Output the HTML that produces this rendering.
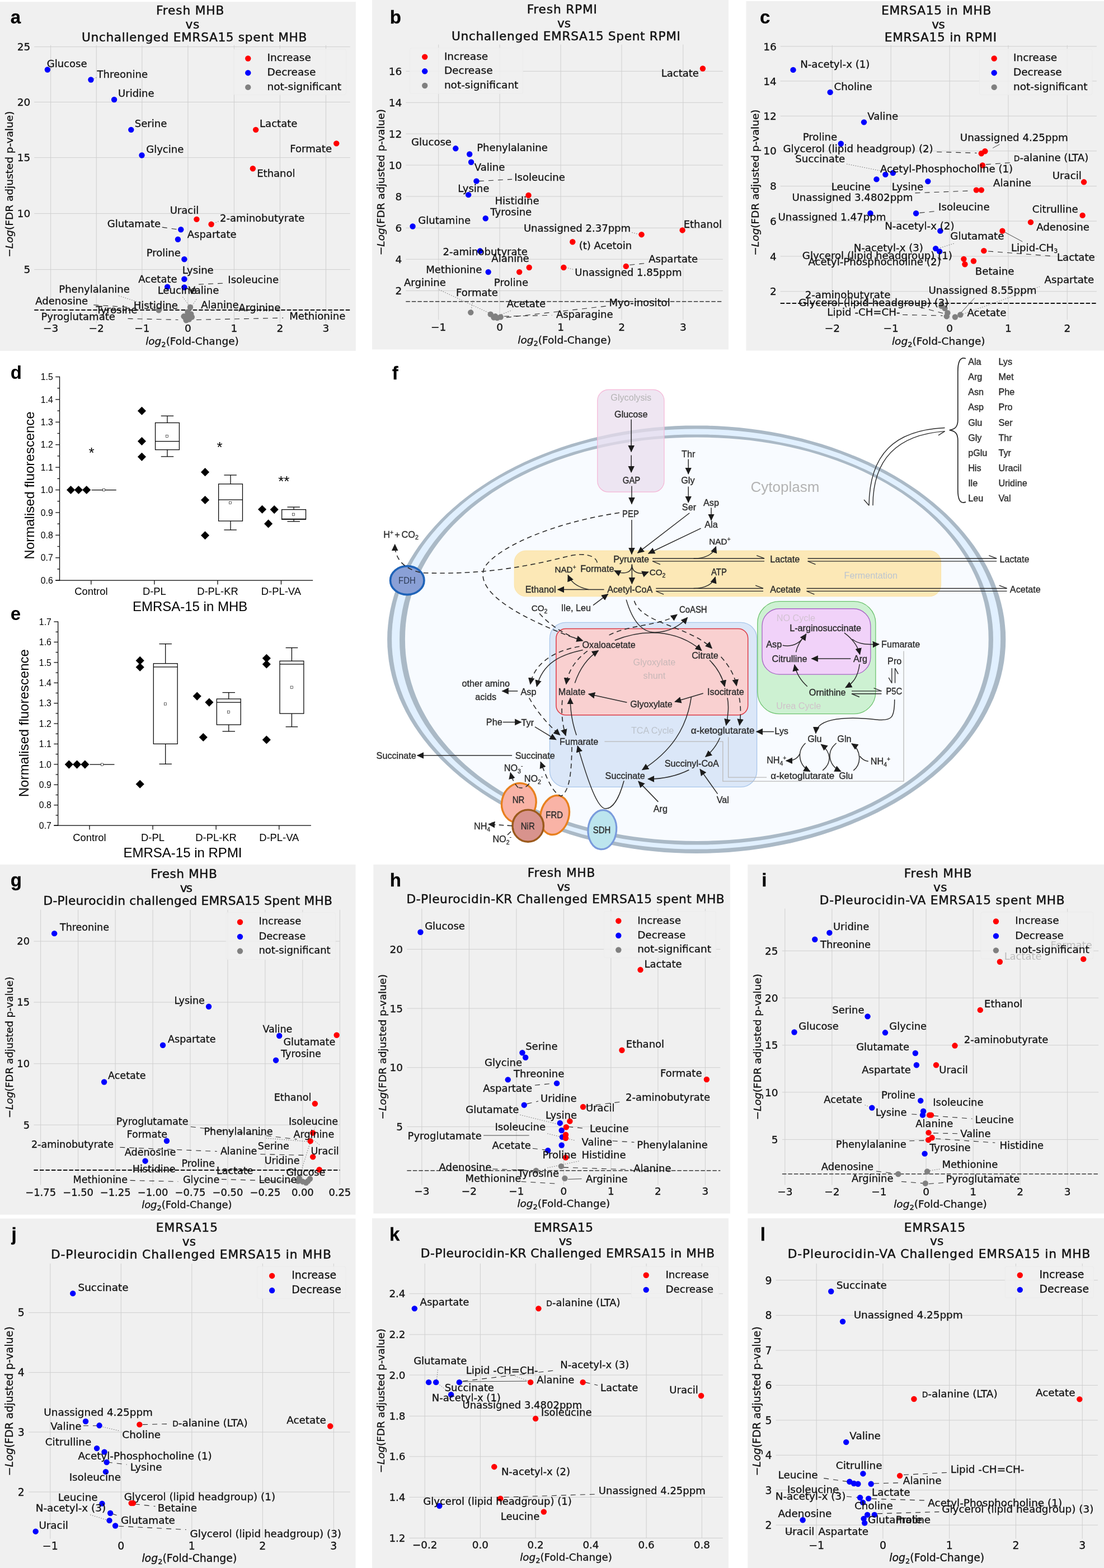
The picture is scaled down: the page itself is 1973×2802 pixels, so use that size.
<!DOCTYPE html>
<html lang="en"><head><meta charset="utf-8"><title>Figure</title>
<style>
html,body{margin:0;padding:0;background:#fff;}
body{width:1973px;height:2802px;}
svg{display:block;}
.v{font-family:"DejaVu Sans","Liberation Sans",sans-serif;fill:#111;}
.v text{stroke:#111;stroke-width:0.3px;}
.v text.tt{stroke-width:0.45px;}
.b{font-family:"Liberation Sans",sans-serif;fill:#000;}
.d{font-family:"Liberation Sans","DejaVu Sans",sans-serif;fill:#2b2b2b;}
.d text{stroke:#2b2b2b;stroke-width:0.35px;}
.d text.g{stroke:none;}
text.pl{font-family:"Liberation Sans",sans-serif;font-weight:bold;fill:#000;}
</style></head><body>
<svg width="1973" height="2802" viewBox="0 0 1973 2802">
<rect x="0" y="0" width="1973" height="2802" fill="#ffffff"/>
<!-- panel_a -->
<g class="v">
<rect x="0" y="3.27" width="635.92" height="623.67" fill="#f0f0f0"/>
<line x1="90.61" y1="80.82" x2="90.61" y2="577.55" stroke="#cfcfcf" stroke-width="1"/>
<line x1="172.24" y1="80.82" x2="172.24" y2="577.55" stroke="#cfcfcf" stroke-width="1"/>
<line x1="253.88" y1="80.82" x2="253.88" y2="577.55" stroke="#cfcfcf" stroke-width="1"/>
<line x1="335.92" y1="80.82" x2="335.92" y2="577.55" stroke="#cfcfcf" stroke-width="1"/>
<line x1="418.37" y1="80.82" x2="418.37" y2="577.55" stroke="#cfcfcf" stroke-width="1"/>
<line x1="500.41" y1="80.82" x2="500.41" y2="577.55" stroke="#cfcfcf" stroke-width="1"/>
<line x1="582.45" y1="80.82" x2="582.45" y2="577.55" stroke="#cfcfcf" stroke-width="1"/>
<line x1="61.22" y1="83.67" x2="625.71" y2="83.67" stroke="#cfcfcf" stroke-width="1"/>
<line x1="61.22" y1="182.45" x2="625.71" y2="182.45" stroke="#cfcfcf" stroke-width="1"/>
<line x1="61.22" y1="281.63" x2="625.71" y2="281.63" stroke="#cfcfcf" stroke-width="1"/>
<line x1="61.22" y1="381.63" x2="625.71" y2="381.63" stroke="#cfcfcf" stroke-width="1"/>
<line x1="61.22" y1="481.63" x2="625.71" y2="481.63" stroke="#cfcfcf" stroke-width="1"/>
<rect x="417.14" y="87.76" width="201.22" height="81.63" fill="#f0f0f0" rx="3" stroke="#ececec" stroke-width="1" fill-opacity="0.85"/>
<line x1="61.22" y1="553.88" x2="625.71" y2="553.88" stroke="#111" stroke-width="2" stroke-dasharray="7.5 3"/>
<line x1="289.8" y1="406.12" x2="318.37" y2="410.2" stroke="#2a2a2a" stroke-width="1.1" stroke-dasharray="9 8"/>
<line x1="355.1" y1="508.16" x2="400" y2="506.12" stroke="#2a2a2a" stroke-width="1.1" stroke-dasharray="9 8"/>
<line x1="212.24" y1="528.57" x2="281.63" y2="551.02" stroke="#444" stroke-width="0.8" stroke-dasharray="1.5 2.5"/>
<line x1="167.35" y1="544.9" x2="228.57" y2="548.98" stroke="#2a2a2a" stroke-width="1.1" stroke-dasharray="9 8"/>
<line x1="351.02" y1="571.43" x2="506.12" y2="568.16" stroke="#2a2a2a" stroke-width="1.1" stroke-dasharray="9 8"/>
<line x1="228.57" y1="569.39" x2="318.37" y2="571.43" stroke="#2a2a2a" stroke-width="1.1" stroke-dasharray="9 8"/>
<line x1="90.61" y1="121.63" x2="97.96" y2="118.37" stroke="#444" stroke-width="0.8" stroke-dasharray="1.5 2.5"/>
<line x1="167.35" y1="140.82" x2="173.47" y2="137.96" stroke="#444" stroke-width="0.8" stroke-dasharray="1.5 2.5"/>
<line x1="381.63" y1="399.18" x2="391.84" y2="395.1" stroke="#444" stroke-width="0.8" stroke-dasharray="1.5 2.5"/>
<line x1="326.53" y1="530.61" x2="338.78" y2="546.94" stroke="#444" stroke-width="0.8" stroke-dasharray="1.5 2.5"/>
<line x1="351.02" y1="534.69" x2="342.86" y2="546.94" stroke="#444" stroke-width="0.8" stroke-dasharray="1.5 2.5"/>
<circle cx="340" cy="548.98" r="5.2" fill="#808080" />
<circle cx="283.67" cy="554.29" r="5.2" fill="#808080" />
<circle cx="334.69" cy="563.27" r="5.2" fill="#808080" />
<circle cx="331.43" cy="568.16" r="5.2" fill="#808080" />
<circle cx="337.96" cy="570.61" r="5.2" fill="#808080" />
<circle cx="341.22" cy="561.22" r="5.2" fill="#808080" />
<circle cx="328.57" cy="565.31" r="5.2" fill="#808080" />
<circle cx="335.51" cy="557.55" r="5.2" fill="#808080" />
<circle cx="332.65" cy="572.24" r="5.2" fill="#808080" />
<circle cx="342.86" cy="566.53" r="5.2" fill="#808080" />
<circle cx="84.9" cy="124.49" r="5.2" fill="#0000ff" />
<circle cx="162.45" cy="142.45" r="5.2" fill="#0000ff" />
<circle cx="204.08" cy="177.96" r="5.2" fill="#0000ff" />
<circle cx="234.29" cy="231.84" r="5.2" fill="#0000ff" />
<circle cx="253.47" cy="277.55" r="5.2" fill="#0000ff" />
<circle cx="323.27" cy="410.2" r="5.2" fill="#0000ff" />
<circle cx="317.96" cy="427.76" r="5.2" fill="#0000ff" />
<circle cx="329.39" cy="463.27" r="5.2" fill="#0000ff" />
<circle cx="329.39" cy="498.78" r="5.2" fill="#0000ff" />
<circle cx="299.18" cy="512.65" r="5.2" fill="#0000ff" />
<circle cx="329.39" cy="513.47" r="5.2" fill="#0000ff" />
<circle cx="457.14" cy="231.84" r="5.2" fill="#ff0000" />
<circle cx="601.22" cy="256.33" r="5.2" fill="#ff0000" />
<circle cx="451.84" cy="301.22" r="5.2" fill="#ff0000" />
<circle cx="351.43" cy="391.84" r="5.2" fill="#ff0000" />
<circle cx="377.55" cy="400.82" r="5.2" fill="#ff0000" />
<text x="83.67" y="120.09" font-size="18.05">Glucose</text>
<text x="173.47" y="139.27" font-size="18.05">Threonine</text>
<text x="211.02" y="172.74" font-size="18.05">Uridine</text>
<text x="240.82" y="227.02" font-size="18.05">Serine</text>
<text x="261.22" y="272.74" font-size="18.05">Glycine</text>
<text x="464.08" y="227.02" font-size="18.05">Lactate</text>
<text x="518.37" y="271.51" font-size="18.05">Formate</text>
<text x="459.18" y="315.6" font-size="18.05">Ethanol</text>
<text x="303.67" y="382.13" font-size="18.05">Uracil</text>
<text x="393.06" y="396" font-size="18.05">2-aminobutyrate</text>
<text x="191.84" y="406.21" font-size="18.05">Glutamate</text>
<text x="334.69" y="424.98" font-size="18.05">Aspartate</text>
<text x="261.63" y="458.45" font-size="18.05">Proline</text>
<text x="325.71" y="489.07" font-size="18.05">Lysine</text>
<text x="247.35" y="505.39" font-size="18.05">Acetate</text>
<text x="407.35" y="506.21" font-size="18.05">Isoleucine</text>
<text x="105.31" y="522.53" font-size="18.05">Phenylalanine</text>
<text x="281.63" y="525.39" font-size="18.05">Leucine</text>
<text x="336.73" y="525.39" font-size="18.05">Valine</text>
<text x="63.27" y="543.76" font-size="18.05">Adenosine</text>
<text x="238.78" y="551.51" font-size="18.05">Histidine</text>
<text x="359.18" y="550.7" font-size="18.05">Alanine</text>
<text x="426.53" y="556" font-size="18.05">Arginine</text>
<text x="171.43" y="560.09" font-size="18.05">Tyrosine</text>
<text x="73.47" y="571.92" font-size="18.05">Pyroglutamate</text>
<text x="517.14" y="570.7" font-size="18.05">Methionine</text>
<circle cx="443.27" cy="104.47" r="5.2" fill="#ff0000" />
<text x="477.55" y="109.43" font-size="18.5">Increase</text>
<circle cx="443.27" cy="130.18" r="5.2" fill="#0000ff" />
<text x="477.55" y="135.14" font-size="18.5">Decrease</text>
<circle cx="443.27" cy="155.89" r="5.2" fill="#808080" />
<text x="477.55" y="160.85" font-size="18.5">not-significant</text>
<text x="90.61" y="593.19" font-size="18.5" text-anchor="middle">−3</text>
<text x="172.24" y="593.19" font-size="18.5" text-anchor="middle">−2</text>
<text x="253.88" y="593.19" font-size="18.5" text-anchor="middle">−1</text>
<text x="335.92" y="593.19" font-size="18.5" text-anchor="middle">0</text>
<text x="418.37" y="593.19" font-size="18.5" text-anchor="middle">1</text>
<text x="500.41" y="593.19" font-size="18.5" text-anchor="middle">2</text>
<text x="582.45" y="593.19" font-size="18.5" text-anchor="middle">3</text>
<text x="54.29" y="90.33" font-size="18.5" text-anchor="end">25</text>
<text x="54.29" y="189.11" font-size="18.5" text-anchor="end">20</text>
<text x="54.29" y="288.29" font-size="18.5" text-anchor="end">15</text>
<text x="54.29" y="388.29" font-size="18.5" text-anchor="end">10</text>
<text x="54.29" y="488.29" font-size="18.5" text-anchor="end">5</text>
<text x="343.47" y="615.64" font-size="18.5" text-anchor="middle"><tspan font-style="italic">log</tspan><tspan font-size="13" dy="4">2</tspan><tspan dy="-4">(Fold-Change)</tspan></text>
<text x="22.99" y="329.18" font-size="18.5" text-anchor="middle" transform="rotate(-90 22.99 329.18)">−<tspan font-style="italic">Log</tspan>(FDR adjusted p-value)</text>
<text x="278.98" y="26.28" font-size="21.7" class="tt" textLength="121.44" lengthAdjust="spacing">Fresh MHB</text>
<text x="331.43" y="50.77" font-size="21.7" class="tt" textLength="24.85" lengthAdjust="spacing">vs</text>
<text x="145.96" y="74.03" font-size="21.7" class="tt" textLength="402.48" lengthAdjust="spacing">Unchallenged EMRSA15 spent MHB</text>
<text x="18.78" y="41.5" font-size="33" class="pl">a</text>
</g>
<!-- panel_b -->
<g class="v">
<rect x="664.9" y="0" width="637.14" height="624.49" fill="#f0f0f0"/>
<line x1="783.67" y1="79.59" x2="783.67" y2="571.43" stroke="#cfcfcf" stroke-width="1"/>
<line x1="893.06" y1="79.59" x2="893.06" y2="571.43" stroke="#cfcfcf" stroke-width="1"/>
<line x1="1002.04" y1="79.59" x2="1002.04" y2="571.43" stroke="#cfcfcf" stroke-width="1"/>
<line x1="1111.02" y1="79.59" x2="1111.02" y2="571.43" stroke="#cfcfcf" stroke-width="1"/>
<line x1="1220.82" y1="79.59" x2="1220.82" y2="571.43" stroke="#cfcfcf" stroke-width="1"/>
<line x1="725.31" y1="127.35" x2="1291.84" y2="127.35" stroke="#cfcfcf" stroke-width="1"/>
<line x1="725.31" y1="183.27" x2="1291.84" y2="183.27" stroke="#cfcfcf" stroke-width="1"/>
<line x1="725.31" y1="239.18" x2="1291.84" y2="239.18" stroke="#cfcfcf" stroke-width="1"/>
<line x1="725.31" y1="295.1" x2="1291.84" y2="295.1" stroke="#cfcfcf" stroke-width="1"/>
<line x1="725.31" y1="351.02" x2="1291.84" y2="351.02" stroke="#cfcfcf" stroke-width="1"/>
<line x1="725.31" y1="407.35" x2="1291.84" y2="407.35" stroke="#cfcfcf" stroke-width="1"/>
<line x1="725.31" y1="463.27" x2="1291.84" y2="463.27" stroke="#cfcfcf" stroke-width="1"/>
<line x1="725.31" y1="519.59" x2="1291.84" y2="519.59" stroke="#cfcfcf" stroke-width="1"/>
<rect x="732.65" y="85.71" width="201.63" height="81.63" fill="#f0f0f0" rx="3" stroke="#ececec" stroke-width="1" fill-opacity="0.85"/>
<line x1="725.31" y1="538.78" x2="1291.84" y2="538.78" stroke="#111" stroke-width="1.2" stroke-dasharray="7.5 3"/>
<line x1="855.92" y1="323.67" x2="915.1" y2="320.41" stroke="#2a2a2a" stroke-width="1.1" stroke-dasharray="9 8"/>
<line x1="1125.31" y1="473.47" x2="1155.92" y2="470.2" stroke="#2a2a2a" stroke-width="1.1" stroke-dasharray="9 8"/>
<line x1="784.49" y1="517.55" x2="878.37" y2="561.22" stroke="#444" stroke-width="0.8" stroke-dasharray="1.5 2.5"/>
<line x1="900.82" y1="565.31" x2="986.53" y2="563.27" stroke="#2a2a2a" stroke-width="1.1" stroke-dasharray="9 8"/>
<line x1="904.9" y1="567.35" x2="1084.49" y2="546.94" stroke="#2a2a2a" stroke-width="1.1" stroke-dasharray="9 8"/>
<line x1="892.65" y1="563.27" x2="915.1" y2="554.29" stroke="#444" stroke-width="0.8" stroke-dasharray="1.5 2.5"/>
<line x1="841.22" y1="558.37" x2="845.71" y2="534.69" stroke="#444" stroke-width="0.8" stroke-dasharray="1.5 2.5"/>
<line x1="1129.39" y1="415.51" x2="1143.67" y2="419.18" stroke="#444" stroke-width="0.8" stroke-dasharray="1.5 2.5"/>
<line x1="1011.02" y1="477.96" x2="1025.31" y2="481.63" stroke="#444" stroke-width="0.8" stroke-dasharray="1.5 2.5"/>
<circle cx="841.22" cy="558.37" r="5.2" fill="#808080" />
<circle cx="876.73" cy="561.63" r="5.2" fill="#808080" />
<circle cx="882.45" cy="567.35" r="5.2" fill="#808080" />
<circle cx="888.57" cy="568.16" r="5.2" fill="#808080" />
<circle cx="894.69" cy="566.53" r="5.2" fill="#808080" />
<circle cx="885.31" cy="565.31" r="5.2" fill="#808080" />
<circle cx="814.29" cy="265.31" r="5.2" fill="#0000ff" />
<circle cx="839.18" cy="275.51" r="5.2" fill="#0000ff" />
<circle cx="842.04" cy="289.8" r="5.2" fill="#0000ff" />
<circle cx="851.43" cy="323.67" r="5.2" fill="#0000ff" />
<circle cx="837.14" cy="348.16" r="5.2" fill="#0000ff" />
<circle cx="867.76" cy="390.2" r="5.2" fill="#0000ff" />
<circle cx="737.55" cy="404.49" r="5.2" fill="#0000ff" />
<circle cx="857.96" cy="448.57" r="5.2" fill="#0000ff" />
<circle cx="872.65" cy="486.12" r="5.2" fill="#0000ff" />
<circle cx="1255.92" cy="122.45" r="5.2" fill="#ff0000" />
<circle cx="944.49" cy="348.98" r="5.2" fill="#ff0000" />
<circle cx="1146.53" cy="419.18" r="5.2" fill="#ff0000" />
<circle cx="1219.59" cy="411.43" r="5.2" fill="#ff0000" />
<circle cx="1023.27" cy="432.24" r="5.2" fill="#ff0000" />
<circle cx="945.71" cy="477.96" r="5.2" fill="#ff0000" />
<circle cx="928.16" cy="486.12" r="5.2" fill="#ff0000" />
<circle cx="1007.35" cy="477.96" r="5.2" fill="#ff0000" />
<circle cx="1118.78" cy="475.92" r="5.2" fill="#ff0000" />
<text x="1181.63" y="137.23" font-size="18.05">Lactate</text>
<text x="735.1" y="260.09" font-size="18.05">Glucose</text>
<text x="852.24" y="270.29" font-size="18.05">Phenylalanine</text>
<text x="847.76" y="304.98" font-size="18.05">Valine</text>
<text x="919.18" y="322.53" font-size="18.05">Isoleucine</text>
<text x="818.37" y="342.53" font-size="18.05">Lysine</text>
<text x="884.49" y="364.58" font-size="18.05">Histidine</text>
<text x="876.33" y="385.39" font-size="18.05">Tyrosine</text>
<text x="747.35" y="399.68" font-size="18.05">Glutamine</text>
<text x="1221.63" y="406.62" font-size="18.05">Ethanol</text>
<text x="935.92" y="414.37" font-size="18.05">Unassigned 2.37ppm</text>
<text x="1034.69" y="445.39" font-size="18.05">(t) Acetoin</text>
<text x="791.43" y="456.41" font-size="18.05">2-aminobutyrate</text>
<text x="878.37" y="468.25" font-size="18.05">Alanine</text>
<text x="1159.18" y="469.07" font-size="18.05">Aspartate</text>
<text x="761.22" y="487.84" font-size="18.05">Methionine</text>
<text x="1027.35" y="493.15" font-size="18.05">Unassigned 1.85ppm</text>
<text x="722.04" y="510.7" font-size="18.05">Arginine</text>
<text x="882.86" y="510.7" font-size="18.05">Proline</text>
<text x="815.1" y="529.47" font-size="18.05">Formate</text>
<text x="905.71" y="548.66" font-size="18.05">Acetate</text>
<text x="1088.57" y="547.43" font-size="18.05">Myo-inositol</text>
<text x="993.88" y="567.84" font-size="18.05">Asparagine</text>
<circle cx="759.18" cy="101.61" r="5.2" fill="#ff0000" />
<text x="793.88" y="106.57" font-size="18.5">Increase</text>
<circle cx="759.18" cy="127.32" r="5.2" fill="#0000ff" />
<text x="793.88" y="132.28" font-size="18.5">Decrease</text>
<circle cx="759.18" cy="153.04" r="5.2" fill="#808080" />
<text x="793.88" y="158" font-size="18.5">not-significant</text>
<text x="783.67" y="591.15" font-size="18.5" text-anchor="middle">−1</text>
<text x="893.06" y="591.15" font-size="18.5" text-anchor="middle">0</text>
<text x="1002.04" y="591.15" font-size="18.5" text-anchor="middle">1</text>
<text x="1111.02" y="591.15" font-size="18.5" text-anchor="middle">2</text>
<text x="1220.82" y="591.15" font-size="18.5" text-anchor="middle">3</text>
<text x="718.37" y="134.01" font-size="18.5" text-anchor="end">16</text>
<text x="718.37" y="189.93" font-size="18.5" text-anchor="end">14</text>
<text x="718.37" y="245.84" font-size="18.5" text-anchor="end">12</text>
<text x="718.37" y="301.76" font-size="18.5" text-anchor="end">10</text>
<text x="718.37" y="357.68" font-size="18.5" text-anchor="end">8</text>
<text x="718.37" y="414.01" font-size="18.5" text-anchor="end">6</text>
<text x="718.37" y="469.93" font-size="18.5" text-anchor="end">4</text>
<text x="718.37" y="526.25" font-size="18.5" text-anchor="end">2</text>
<text x="1008.57" y="613.6" font-size="18.5" text-anchor="middle"><tspan font-style="italic">log</tspan><tspan font-size="13" dy="4">2</tspan><tspan dy="-4">(Fold-Change)</tspan></text>
<text x="687.07" y="325.51" font-size="18.5" text-anchor="middle" transform="rotate(-90 687.07 325.51)">−<tspan font-style="italic">Log</tspan>(FDR adjusted p-value)</text>
<text x="941.63" y="24.24" font-size="21.7" class="tt" textLength="125.31" lengthAdjust="spacing">Fresh RPMI</text>
<text x="995.92" y="48.73" font-size="21.7" class="tt" textLength="24.03" lengthAdjust="spacing">vs</text>
<text x="806.94" y="71.99" font-size="21.7" class="tt" textLength="409.01" lengthAdjust="spacing">Unchallenged EMRSA15 Spent RPMI</text>
<text x="696.73" y="41.5" font-size="33" class="pl">b</text>
</g>
<!-- panel_c -->
<g class="v">
<rect x="1333.41" y="2.04" width="640.82" height="624.49" fill="#f0f0f0"/>
<line x1="1487.29" y1="80.82" x2="1487.29" y2="571.43" stroke="#cfcfcf" stroke-width="1"/>
<line x1="1592.18" y1="80.82" x2="1592.18" y2="571.43" stroke="#cfcfcf" stroke-width="1"/>
<line x1="1697.08" y1="80.82" x2="1697.08" y2="571.43" stroke="#cfcfcf" stroke-width="1"/>
<line x1="1801.98" y1="80.82" x2="1801.98" y2="571.43" stroke="#cfcfcf" stroke-width="1"/>
<line x1="1907.29" y1="80.82" x2="1907.29" y2="571.43" stroke="#cfcfcf" stroke-width="1"/>
<line x1="1394.63" y1="82.86" x2="1959.94" y2="82.86" stroke="#cfcfcf" stroke-width="1"/>
<line x1="1394.63" y1="144.9" x2="1959.94" y2="144.9" stroke="#cfcfcf" stroke-width="1"/>
<line x1="1394.63" y1="207.35" x2="1959.94" y2="207.35" stroke="#cfcfcf" stroke-width="1"/>
<line x1="1394.63" y1="269.8" x2="1959.94" y2="269.8" stroke="#cfcfcf" stroke-width="1"/>
<line x1="1394.63" y1="332.65" x2="1959.94" y2="332.65" stroke="#cfcfcf" stroke-width="1"/>
<line x1="1394.63" y1="395.1" x2="1959.94" y2="395.1" stroke="#cfcfcf" stroke-width="1"/>
<line x1="1394.63" y1="457.96" x2="1959.94" y2="457.96" stroke="#cfcfcf" stroke-width="1"/>
<line x1="1394.63" y1="520.82" x2="1959.94" y2="520.82" stroke="#cfcfcf" stroke-width="1"/>
<rect x="1750.55" y="87.76" width="201.22" height="81.63" fill="#f0f0f0" rx="3" stroke="#ececec" stroke-width="1" fill-opacity="0.85"/>
<line x1="1394.63" y1="542.04" x2="1959.94" y2="542.04" stroke="#111" stroke-width="2" stroke-dasharray="7.5 3"/>
<line x1="1674.22" y1="271.43" x2="1745.65" y2="273.47" stroke="#2a2a2a" stroke-width="1.1" stroke-dasharray="9 8"/>
<line x1="1761.98" y1="293.88" x2="1806.88" y2="290.61" stroke="#2a2a2a" stroke-width="1.1" stroke-dasharray="9 8"/>
<line x1="1513" y1="293.06" x2="1578.31" y2="306.12" stroke="#444" stroke-width="0.8" stroke-dasharray="1.5 2.5"/>
<line x1="1635.45" y1="344.9" x2="1737.49" y2="340.82" stroke="#2a2a2a" stroke-width="1.1" stroke-dasharray="9 8"/>
<line x1="1643.61" y1="380.41" x2="1672.18" y2="377.55" stroke="#2a2a2a" stroke-width="1.1" stroke-dasharray="9 8"/>
<line x1="1766.06" y1="448.98" x2="1884.43" y2="457.96" stroke="#2a2a2a" stroke-width="1.1" stroke-dasharray="9 8"/>
<line x1="1794.63" y1="414.29" x2="1827.29" y2="431.84" stroke="#333" stroke-width="0.9"/>
<line x1="1774.22" y1="264.49" x2="1786.47" y2="257.96" stroke="#333" stroke-width="0.9"/>
<line x1="1680.35" y1="442.86" x2="1704.84" y2="435.1" stroke="#444" stroke-width="0.8" stroke-dasharray="1.5 2.5"/>
<line x1="1721.16" y1="561.22" x2="1857.9" y2="512.24" stroke="#444" stroke-width="0.8" stroke-dasharray="1.5 2.5"/>
<line x1="1717.08" y1="559.18" x2="1741.57" y2="532.65" stroke="#333" stroke-width="0.9"/>
<line x1="1613" y1="562.45" x2="1684.43" y2="564.08" stroke="#2a2a2a" stroke-width="1.1" stroke-dasharray="9 8"/>
<line x1="1643.61" y1="548.98" x2="1686.47" y2="560" stroke="#2a2a2a" stroke-width="1.1" stroke-dasharray="9 8"/>
<circle cx="1682.39" cy="546.94" r="5.2" fill="#808080" />
<circle cx="1688.51" cy="551.02" r="5.2" fill="#808080" />
<circle cx="1693.41" cy="559.18" r="5.2" fill="#808080" />
<circle cx="1691.78" cy="565.31" r="5.2" fill="#808080" />
<circle cx="1706.88" cy="566.53" r="5.2" fill="#808080" />
<circle cx="1716.27" cy="562.45" r="5.2" fill="#808080" />
<circle cx="1417.49" cy="124.9" r="5.2" fill="#0000ff" />
<circle cx="1483.61" cy="164.9" r="5.2" fill="#0000ff" />
<circle cx="1544.02" cy="218.37" r="5.2" fill="#0000ff" />
<circle cx="1502.8" cy="256.73" r="5.2" fill="#0000ff" />
<circle cx="1582.39" cy="311.84" r="5.2" fill="#0000ff" />
<circle cx="1595.86" cy="308.98" r="5.2" fill="#0000ff" />
<circle cx="1566.47" cy="320.41" r="5.2" fill="#0000ff" />
<circle cx="1658.31" cy="324.08" r="5.2" fill="#0000ff" />
<circle cx="1555.45" cy="381.22" r="5.2" fill="#0000ff" />
<circle cx="1637.08" cy="381.22" r="5.2" fill="#0000ff" />
<circle cx="1680.35" cy="412.65" r="5.2" fill="#0000ff" />
<circle cx="1672.18" cy="444.08" r="5.2" fill="#0000ff" />
<circle cx="1679.12" cy="449.39" r="5.2" fill="#0000ff" />
<circle cx="1760.35" cy="270.2" r="5.2" fill="#ff0000" />
<circle cx="1753.82" cy="274.29" r="5.2" fill="#ff0000" />
<circle cx="1755.86" cy="295.51" r="5.2" fill="#ff0000" />
<circle cx="1937.08" cy="325.31" r="5.2" fill="#ff0000" />
<circle cx="1744.84" cy="339.59" r="5.2" fill="#ff0000" />
<circle cx="1753.82" cy="339.59" r="5.2" fill="#ff0000" />
<circle cx="1934.63" cy="384.9" r="5.2" fill="#ff0000" />
<circle cx="1841.98" cy="397.14" r="5.2" fill="#ff0000" />
<circle cx="1791.37" cy="412.65" r="5.2" fill="#ff0000" />
<circle cx="1758.31" cy="448.16" r="5.2" fill="#ff0000" />
<circle cx="1722.39" cy="462.86" r="5.2" fill="#ff0000" />
<circle cx="1739.94" cy="466.53" r="5.2" fill="#ff0000" />
<circle cx="1724.43" cy="472.24" r="5.2" fill="#ff0000" />
<text x="1430.14" y="120.54" font-size="18.2">N-acetyl-x (1)</text>
<text x="1490.55" y="160.54" font-size="18.2">Choline</text>
<text x="1550.14" y="214.01" font-size="18.2">Valine</text>
<text x="1434.63" y="251.16" font-size="18.2">Proline</text>
<text x="1715.86" y="251.56" font-size="18.2">Unassigned 4.25ppm</text>
<text x="1399.53" y="271.56" font-size="18.2">Glycerol (lipid headgroup) (2)</text>
<text x="1811.78" y="288.18" font-size="18.2"><tspan font-size="13.8">D</tspan>-alanine (LTA)</text>
<text x="1421.16" y="289.52" font-size="18.2">Succinate</text>
<text x="1573" y="307.89" font-size="18.2">Acetyl-Phosphocholine (1)</text>
<text x="1880.76" y="320.14" font-size="18.2">Uracil</text>
<text x="1775.04" y="332.79" font-size="18.2">Alanine</text>
<text x="1485.65" y="339.73" font-size="18.2">Leucine</text>
<text x="1593.82" y="339.73" font-size="18.2">Lysine</text>
<text x="1415.45" y="358.5" font-size="18.2">Unassigned 3.4802ppm</text>
<text x="1677.08" y="376.46" font-size="18.2">Isoleucine</text>
<text x="1844.84" y="379.73" font-size="18.2">Citrulline</text>
<text x="1390.55" y="394.01" font-size="18.2">Unassigned 1.47ppm</text>
<text x="1581.16" y="409.93" font-size="18.2">N-acetyl-x (2)</text>
<text x="1852.18" y="411.97" font-size="18.2">Adenosine</text>
<text x="1698.31" y="427.89" font-size="18.2">Glutamate</text>
<text x="1525.65" y="448.71" font-size="18.2">N-acetyl-x (3)</text>
<text x="1806.88" y="448.59" font-size="18.2">Lipid-CH<tspan font-size="11" dy="3">3</tspan></text>
<text x="1433.82" y="463.4" font-size="18.2">Glycerol (lipid headgroup) (1)</text>
<text x="1888.92" y="465.85" font-size="18.2">Lactate</text>
<text x="1444.43" y="474.01" font-size="18.2">Acetyl-Phosphocholine (2)</text>
<text x="1742.8" y="491.16" font-size="18.2">Betaine</text>
<text x="1866.47" y="505.85" font-size="18.2">Aspartate</text>
<text x="1659.53" y="525.03" font-size="18.2">Unassigned 8.55ppm</text>
<text x="1438.71" y="533.2" font-size="18.2">2-aminobutyrate</text>
<text x="1427.29" y="547.48" font-size="18.2">Glycerol (lipid headgroup) (3)</text>
<text x="1478.31" y="564.22" font-size="18.2">Lipid -CH=CH-</text>
<text x="1728.51" y="565.03" font-size="18.2">Acetate</text>
<circle cx="1776.67" cy="104.47" r="5.2" fill="#ff0000" />
<text x="1810.96" y="109.43" font-size="18.5">Increase</text>
<circle cx="1776.67" cy="130.18" r="5.2" fill="#0000ff" />
<text x="1810.96" y="135.14" font-size="18.5">Decrease</text>
<circle cx="1776.67" cy="155.89" r="5.2" fill="#808080" />
<text x="1810.96" y="160.85" font-size="18.5">not-significant</text>
<text x="1487.29" y="593.19" font-size="18.5" text-anchor="middle">−2</text>
<text x="1592.18" y="593.19" font-size="18.5" text-anchor="middle">−1</text>
<text x="1697.08" y="593.19" font-size="18.5" text-anchor="middle">0</text>
<text x="1801.98" y="593.19" font-size="18.5" text-anchor="middle">1</text>
<text x="1907.29" y="593.19" font-size="18.5" text-anchor="middle">2</text>
<text x="1387.69" y="89.52" font-size="18.5" text-anchor="end">16</text>
<text x="1387.69" y="151.56" font-size="18.5" text-anchor="end">14</text>
<text x="1387.69" y="214.01" font-size="18.5" text-anchor="end">12</text>
<text x="1387.69" y="276.46" font-size="18.5" text-anchor="end">10</text>
<text x="1387.69" y="339.31" font-size="18.5" text-anchor="end">8</text>
<text x="1387.69" y="401.76" font-size="18.5" text-anchor="end">6</text>
<text x="1387.69" y="464.62" font-size="18.5" text-anchor="end">4</text>
<text x="1387.69" y="527.48" font-size="18.5" text-anchor="end">2</text>
<text x="1677.29" y="615.64" font-size="18.5" text-anchor="middle"><tspan font-style="italic">log</tspan><tspan font-size="13" dy="4">2</tspan><tspan dy="-4">(Fold-Change)</tspan></text>
<text x="1356.39" y="326.12" font-size="18.5" text-anchor="middle" transform="rotate(-90 1356.39 326.12)">−<tspan font-style="italic">Log</tspan>(FDR adjusted p-value)</text>
<text x="1575.04" y="26.28" font-size="21.7" class="tt" textLength="196.28" lengthAdjust="spacing">EMRSA15 in MHB</text>
<text x="1665.24" y="50.77" font-size="21.7" class="tt" textLength="23.63" lengthAdjust="spacing">vs</text>
<text x="1580.76" y="74.03" font-size="21.7" class="tt" textLength="200.35" lengthAdjust="spacing">EMRSA15 in RPMI</text>
<text x="1357.9" y="41.5" font-size="33" class="pl">c</text>
</g>
<!-- panel_de -->
<g class="b">
<line x1="106.53" y1="672.87" x2="106.53" y2="1037.74" stroke="#000" stroke-width="1.25"/>
<line x1="99.18" y1="1037.14" x2="559.18" y2="1037.14" stroke="#000" stroke-width="1.25"/>
<line x1="99.18" y1="673.47" x2="106.53" y2="673.47" stroke="#000" stroke-width="1.25"/>
<text x="94.69" y="679.16" font-size="15.8" text-anchor="end">1.5</text>
<line x1="102.45" y1="693.67" x2="106.53" y2="693.67" stroke="#000" stroke-width="1.25"/>
<line x1="99.18" y1="713.88" x2="106.53" y2="713.88" stroke="#000" stroke-width="1.25"/>
<text x="94.69" y="719.57" font-size="15.8" text-anchor="end">1.4</text>
<line x1="102.45" y1="734.08" x2="106.53" y2="734.08" stroke="#000" stroke-width="1.25"/>
<line x1="99.18" y1="754.29" x2="106.53" y2="754.29" stroke="#000" stroke-width="1.25"/>
<text x="94.69" y="759.98" font-size="15.8" text-anchor="end">1.3</text>
<line x1="102.45" y1="774.49" x2="106.53" y2="774.49" stroke="#000" stroke-width="1.25"/>
<line x1="99.18" y1="794.69" x2="106.53" y2="794.69" stroke="#000" stroke-width="1.25"/>
<text x="94.69" y="800.38" font-size="15.8" text-anchor="end">1.2</text>
<line x1="102.45" y1="814.9" x2="106.53" y2="814.9" stroke="#000" stroke-width="1.25"/>
<line x1="99.18" y1="835.1" x2="106.53" y2="835.1" stroke="#000" stroke-width="1.25"/>
<text x="94.69" y="840.79" font-size="15.8" text-anchor="end">1.1</text>
<line x1="102.45" y1="855.31" x2="106.53" y2="855.31" stroke="#000" stroke-width="1.25"/>
<line x1="99.18" y1="875.51" x2="106.53" y2="875.51" stroke="#000" stroke-width="1.25"/>
<text x="94.69" y="881.2" font-size="15.8" text-anchor="end">1.0</text>
<line x1="102.45" y1="895.71" x2="106.53" y2="895.71" stroke="#000" stroke-width="1.25"/>
<line x1="99.18" y1="915.92" x2="106.53" y2="915.92" stroke="#000" stroke-width="1.25"/>
<text x="94.69" y="921.61" font-size="15.8" text-anchor="end">0.9</text>
<line x1="102.45" y1="936.12" x2="106.53" y2="936.12" stroke="#000" stroke-width="1.25"/>
<line x1="99.18" y1="956.33" x2="106.53" y2="956.33" stroke="#000" stroke-width="1.25"/>
<text x="94.69" y="962.02" font-size="15.8" text-anchor="end">0.8</text>
<line x1="102.45" y1="976.53" x2="106.53" y2="976.53" stroke="#000" stroke-width="1.25"/>
<line x1="99.18" y1="996.73" x2="106.53" y2="996.73" stroke="#000" stroke-width="1.25"/>
<text x="94.69" y="1002.42" font-size="15.8" text-anchor="end">0.7</text>
<line x1="102.45" y1="1016.94" x2="106.53" y2="1016.94" stroke="#000" stroke-width="1.25"/>
<line x1="99.18" y1="1037.14" x2="106.53" y2="1037.14" stroke="#000" stroke-width="1.25"/>
<text x="94.69" y="1042.83" font-size="15.8" text-anchor="end">0.6</text>
<line x1="162.86" y1="1037.14" x2="162.86" y2="1044.49" stroke="#000" stroke-width="1.25"/>
<text x="162.86" y="1062.54" font-size="18.4" text-anchor="middle">Control</text>
<line x1="275.92" y1="1037.14" x2="275.92" y2="1044.49" stroke="#000" stroke-width="1.25"/>
<text x="275.92" y="1062.54" font-size="18.4" text-anchor="middle">D-PL</text>
<line x1="388.98" y1="1037.14" x2="388.98" y2="1044.49" stroke="#000" stroke-width="1.25"/>
<text x="388.98" y="1062.54" font-size="18.4" text-anchor="middle">D-PL-KR</text>
<line x1="502.45" y1="1037.14" x2="502.45" y2="1044.49" stroke="#000" stroke-width="1.25"/>
<text x="502.45" y="1062.54" font-size="18.4" text-anchor="middle">D-PL-VA</text>
<text x="339.59" y="1092.31" font-size="24" text-anchor="middle">EMRSA-15 in MHB</text>
<text x="60.88" y="867.35" font-size="24" text-anchor="middle" transform="rotate(-90 60.88 867.35)">Normalised fluorescence</text>
<line x1="163.67" y1="875.51" x2="207.76" y2="875.51" stroke="#000" stroke-width="1.25"/>
<rect x="183.61" y="873.41" width="4.2" height="4.2" fill="#fff" stroke="#000" stroke-width="0.6"/>
<line x1="298.98" y1="743.27" x2="298.98" y2="755.51" stroke="#000" stroke-width="1.25"/>
<line x1="298.98" y1="803.67" x2="298.98" y2="815.92" stroke="#000" stroke-width="1.25"/>
<line x1="287.76" y1="743.27" x2="310.2" y2="743.27" stroke="#000" stroke-width="1.25"/>
<line x1="287.76" y1="815.92" x2="310.2" y2="815.92" stroke="#000" stroke-width="1.25"/>
<rect x="277.55" y="755.51" width="42.86" height="48.16" fill="#fff" stroke="#000" stroke-width="1.25"/>
<line x1="277.55" y1="788.57" x2="320.41" y2="788.57" stroke="#000" stroke-width="1.25"/>
<rect x="296.27" y="777.49" width="4.2" height="4.2" fill="#fff" stroke="#000" stroke-width="0.6"/>
<line x1="412.04" y1="848.98" x2="412.04" y2="864.9" stroke="#000" stroke-width="1.25"/>
<line x1="412.04" y1="931.02" x2="412.04" y2="946.94" stroke="#000" stroke-width="1.25"/>
<line x1="400.41" y1="848.98" x2="422.86" y2="848.98" stroke="#000" stroke-width="1.25"/>
<line x1="400.41" y1="946.94" x2="422.86" y2="946.94" stroke="#000" stroke-width="1.25"/>
<rect x="390.61" y="864.9" width="42.86" height="66.12" fill="#fff" stroke="#000" stroke-width="1.25"/>
<line x1="390.61" y1="893.06" x2="433.47" y2="893.06" stroke="#000" stroke-width="1.25"/>
<rect x="409.33" y="896.27" width="4.2" height="4.2" fill="#fff" stroke="#000" stroke-width="0.6"/>
<line x1="525.1" y1="906.12" x2="525.1" y2="910.61" stroke="#000" stroke-width="1.25"/>
<line x1="525.1" y1="928.16" x2="525.1" y2="931.84" stroke="#000" stroke-width="1.25"/>
<line x1="513.47" y1="906.12" x2="535.92" y2="906.12" stroke="#000" stroke-width="1.25"/>
<line x1="513.47" y1="931.84" x2="535.92" y2="931.84" stroke="#000" stroke-width="1.25"/>
<rect x="503.67" y="910.61" width="42.86" height="17.55" fill="#fff" stroke="#000" stroke-width="1.25"/>
<line x1="503.67" y1="927.35" x2="546.53" y2="927.35" stroke="#000" stroke-width="1.25"/>
<rect x="522.39" y="917.08" width="4.2" height="4.2" fill="#fff" stroke="#000" stroke-width="0.6"/>
<path d="M118.98 875.51L126.53 867.96L134.08 875.51L126.53 883.06Z" fill="#000"/>
<path d="M132.86 875.51L140.41 867.96L147.96 875.51L140.41 883.06Z" fill="#000"/>
<path d="M147.14 875.51L154.69 867.96L162.24 875.51L154.69 883.06Z" fill="#000"/>
<path d="M245.92 734.29L253.47 726.74L261.02 734.29L253.47 741.84Z" fill="#000"/>
<path d="M245.92 788.57L253.47 781.02L261.02 788.57L253.47 796.12Z" fill="#000"/>
<path d="M245.92 816.33L253.47 808.78L261.02 816.33L253.47 823.88Z" fill="#000"/>
<path d="M358.98 843.67L366.53 836.12L374.08 843.67L366.53 851.22Z" fill="#000"/>
<path d="M358.98 893.47L366.53 885.92L374.08 893.47L366.53 901.02Z" fill="#000"/>
<path d="M358.98 956.73L366.53 949.18L374.08 956.73L366.53 964.28Z" fill="#000"/>
<path d="M461.02 910.2L468.57 902.65L476.12 910.2L468.57 917.75Z" fill="#000"/>
<path d="M482.65 910.61L490.2 903.06L497.75 910.61L490.2 918.16Z" fill="#000"/>
<path d="M472.04 935.92L479.59 928.37L487.14 935.92L479.59 943.47Z" fill="#000"/>
<text x="163.67" y="818.37" font-size="26" text-anchor="middle">*</text>
<text x="392.65" y="808.16" font-size="26" text-anchor="middle">*</text>
<text x="507.35" y="869.39" font-size="26" text-anchor="middle">**</text>
<text x="18.78" y="676.73" font-size="33" class="pl">d</text>
</g>
<g class="b">
<line x1="103.67" y1="1110.42" x2="103.67" y2="1475.7" stroke="#000" stroke-width="1.25"/>
<line x1="96.33" y1="1475.1" x2="555.92" y2="1475.1" stroke="#000" stroke-width="1.25"/>
<line x1="96.33" y1="1111.02" x2="103.67" y2="1111.02" stroke="#000" stroke-width="1.25"/>
<text x="91.84" y="1116.71" font-size="15.8" text-anchor="end">1.7</text>
<line x1="99.59" y1="1129.22" x2="103.67" y2="1129.22" stroke="#000" stroke-width="1.25"/>
<line x1="96.33" y1="1147.43" x2="103.67" y2="1147.43" stroke="#000" stroke-width="1.25"/>
<text x="91.84" y="1153.12" font-size="15.8" text-anchor="end">1.6</text>
<line x1="99.59" y1="1165.63" x2="103.67" y2="1165.63" stroke="#000" stroke-width="1.25"/>
<line x1="96.33" y1="1183.84" x2="103.67" y2="1183.84" stroke="#000" stroke-width="1.25"/>
<text x="91.84" y="1189.53" font-size="15.8" text-anchor="end">1.5</text>
<line x1="99.59" y1="1202.04" x2="103.67" y2="1202.04" stroke="#000" stroke-width="1.25"/>
<line x1="96.33" y1="1220.24" x2="103.67" y2="1220.24" stroke="#000" stroke-width="1.25"/>
<text x="91.84" y="1225.93" font-size="15.8" text-anchor="end">1.4</text>
<line x1="99.59" y1="1238.45" x2="103.67" y2="1238.45" stroke="#000" stroke-width="1.25"/>
<line x1="96.33" y1="1256.65" x2="103.67" y2="1256.65" stroke="#000" stroke-width="1.25"/>
<text x="91.84" y="1262.34" font-size="15.8" text-anchor="end">1.3</text>
<line x1="99.59" y1="1274.86" x2="103.67" y2="1274.86" stroke="#000" stroke-width="1.25"/>
<line x1="96.33" y1="1293.06" x2="103.67" y2="1293.06" stroke="#000" stroke-width="1.25"/>
<text x="91.84" y="1298.75" font-size="15.8" text-anchor="end">1.2</text>
<line x1="99.59" y1="1311.27" x2="103.67" y2="1311.27" stroke="#000" stroke-width="1.25"/>
<line x1="96.33" y1="1329.47" x2="103.67" y2="1329.47" stroke="#000" stroke-width="1.25"/>
<text x="91.84" y="1335.16" font-size="15.8" text-anchor="end">1.1</text>
<line x1="99.59" y1="1347.67" x2="103.67" y2="1347.67" stroke="#000" stroke-width="1.25"/>
<line x1="96.33" y1="1365.88" x2="103.67" y2="1365.88" stroke="#000" stroke-width="1.25"/>
<text x="91.84" y="1371.57" font-size="15.8" text-anchor="end">1.0</text>
<line x1="99.59" y1="1384.08" x2="103.67" y2="1384.08" stroke="#000" stroke-width="1.25"/>
<line x1="96.33" y1="1402.29" x2="103.67" y2="1402.29" stroke="#000" stroke-width="1.25"/>
<text x="91.84" y="1407.98" font-size="15.8" text-anchor="end">0.9</text>
<line x1="99.59" y1="1420.49" x2="103.67" y2="1420.49" stroke="#000" stroke-width="1.25"/>
<line x1="96.33" y1="1438.69" x2="103.67" y2="1438.69" stroke="#000" stroke-width="1.25"/>
<text x="91.84" y="1444.38" font-size="15.8" text-anchor="end">0.8</text>
<line x1="99.59" y1="1456.9" x2="103.67" y2="1456.9" stroke="#000" stroke-width="1.25"/>
<line x1="96.33" y1="1475.1" x2="103.67" y2="1475.1" stroke="#000" stroke-width="1.25"/>
<text x="91.84" y="1480.79" font-size="15.8" text-anchor="end">0.7</text>
<line x1="160" y1="1475.1" x2="160" y2="1482.45" stroke="#000" stroke-width="1.25"/>
<text x="160" y="1503.35" font-size="18.4" text-anchor="middle">Control</text>
<line x1="273.06" y1="1475.1" x2="273.06" y2="1482.45" stroke="#000" stroke-width="1.25"/>
<text x="273.06" y="1503.35" font-size="18.4" text-anchor="middle">D-PL</text>
<line x1="386.12" y1="1475.1" x2="386.12" y2="1482.45" stroke="#000" stroke-width="1.25"/>
<text x="386.12" y="1503.35" font-size="18.4" text-anchor="middle">D-PL-KR</text>
<line x1="498.78" y1="1475.1" x2="498.78" y2="1482.45" stroke="#000" stroke-width="1.25"/>
<text x="498.78" y="1503.35" font-size="18.4" text-anchor="middle">D-PL-VA</text>
<text x="326.53" y="1531.5" font-size="24" text-anchor="middle">EMRSA-15 in RPMI</text>
<text x="50.68" y="1292.24" font-size="24" text-anchor="middle" transform="rotate(-90 50.68 1292.24)">Normalised fluorescence</text>
<line x1="160.41" y1="1366.12" x2="204.49" y2="1366.12" stroke="#000" stroke-width="1.25"/>
<rect x="180.35" y="1364.02" width="4.2" height="4.2" fill="#fff" stroke="#000" stroke-width="0.6"/>
<line x1="295.71" y1="1150.61" x2="295.71" y2="1185.71" stroke="#000" stroke-width="1.25"/>
<line x1="295.71" y1="1329.39" x2="295.71" y2="1365.31" stroke="#000" stroke-width="1.25"/>
<line x1="284.49" y1="1150.61" x2="306.94" y2="1150.61" stroke="#000" stroke-width="1.25"/>
<line x1="284.49" y1="1365.31" x2="306.94" y2="1365.31" stroke="#000" stroke-width="1.25"/>
<rect x="274.29" y="1185.71" width="42.86" height="143.67" fill="#fff" stroke="#000" stroke-width="1.25"/>
<line x1="274.29" y1="1191.84" x2="317.14" y2="1191.84" stroke="#000" stroke-width="1.25"/>
<rect x="293.41" y="1255.86" width="4.2" height="4.2" fill="#fff" stroke="#000" stroke-width="0.6"/>
<line x1="408.78" y1="1237.55" x2="408.78" y2="1248.98" stroke="#000" stroke-width="1.25"/>
<line x1="408.78" y1="1295.1" x2="408.78" y2="1306.94" stroke="#000" stroke-width="1.25"/>
<line x1="397.55" y1="1237.55" x2="420" y2="1237.55" stroke="#000" stroke-width="1.25"/>
<line x1="397.55" y1="1306.94" x2="420" y2="1306.94" stroke="#000" stroke-width="1.25"/>
<rect x="387.35" y="1248.98" width="42.86" height="46.12" fill="#fff" stroke="#000" stroke-width="1.25"/>
<line x1="387.35" y1="1255.1" x2="430.2" y2="1255.1" stroke="#000" stroke-width="1.25"/>
<rect x="406.47" y="1270.14" width="4.2" height="4.2" fill="#fff" stroke="#000" stroke-width="0.6"/>
<line x1="521.43" y1="1157.55" x2="521.43" y2="1181.22" stroke="#000" stroke-width="1.25"/>
<line x1="521.43" y1="1275.1" x2="521.43" y2="1298.78" stroke="#000" stroke-width="1.25"/>
<line x1="510.61" y1="1157.55" x2="532.24" y2="1157.55" stroke="#000" stroke-width="1.25"/>
<line x1="510.61" y1="1298.78" x2="532.24" y2="1298.78" stroke="#000" stroke-width="1.25"/>
<rect x="500" y="1181.22" width="42.86" height="93.88" fill="#fff" stroke="#000" stroke-width="1.25"/>
<line x1="500" y1="1186.94" x2="542.86" y2="1186.94" stroke="#000" stroke-width="1.25"/>
<rect x="519.12" y="1226.06" width="4.2" height="4.2" fill="#fff" stroke="#000" stroke-width="0.6"/>
<path d="M115.72 1366.12L123.27 1358.57L130.82 1366.12L123.27 1373.67Z" fill="#000"/>
<path d="M130 1366.12L137.55 1358.57L145.1 1366.12L137.55 1373.67Z" fill="#000"/>
<path d="M144.29 1366.12L151.84 1358.57L159.39 1366.12L151.84 1373.67Z" fill="#000"/>
<path d="M242.65 1180.41L250.2 1172.86L257.75 1180.41L250.2 1187.96Z" fill="#000"/>
<path d="M242.65 1192.24L250.2 1184.69L257.75 1192.24L250.2 1199.79Z" fill="#000"/>
<path d="M242.65 1401.22L250.2 1393.67L257.75 1401.22L250.2 1408.77Z" fill="#000"/>
<path d="M344.69 1244.08L352.24 1236.53L359.79 1244.08L352.24 1251.63Z" fill="#000"/>
<path d="M366.33 1255.1L373.88 1247.55L381.43 1255.1L373.88 1262.65Z" fill="#000"/>
<path d="M355.72 1317.55L363.27 1310L370.82 1317.55L363.27 1325.1Z" fill="#000"/>
<path d="M468.78 1176.33L476.33 1168.78L483.88 1176.33L476.33 1183.88Z" fill="#000"/>
<path d="M468.78 1186.94L476.33 1179.39L483.88 1186.94L476.33 1194.49Z" fill="#000"/>
<path d="M468.78 1322.04L476.33 1314.49L483.88 1322.04L476.33 1329.59Z" fill="#000"/>
<text x="18.78" y="1107.76" font-size="33" class="pl">e</text>
</g>
<!-- panel_f -->
<g class="d">
<defs><marker id="ah" markerUnits="userSpaceOnUse" markerWidth="15" markerHeight="13" refX="11.3" refY="6.5" orient="auto"><path d="M0 0.7L12.3 6.5L0 12.3Z" fill="#1c1c1c"/></marker></defs>
<path d="M1797.3 1142.7L1797.0 1155.8L1795.9 1169.0L1794.3 1182.2L1791.9 1195.4L1788.9 1208.5L1785.2 1221.6L1780.8 1234.5L1775.8 1247.4L1770.1 1260.1L1763.8 1272.8L1756.9 1285.2L1749.3 1297.5L1741.1 1309.6L1732.3 1321.5L1722.9 1333.2L1712.9 1344.6L1702.4 1355.9L1691.3 1366.8L1679.6 1377.5L1667.4 1387.9L1654.7 1398.0L1641.5 1407.8L1627.9 1417.2L1613.7 1426.4L1599.1 1435.2L1584.1 1443.6L1568.6 1451.7L1552.8 1459.3L1536.6 1466.6L1520.0 1473.5L1503.1 1480.0L1485.9 1486.1L1468.4 1491.8L1450.7 1497.0L1432.7 1501.8L1414.5 1506.2L1396.0 1510.1L1377.4 1513.6L1358.7 1516.6L1339.8 1519.2L1320.8 1521.3L1301.8 1522.9L1282.7 1524.1L1263.7 1524.8L1244.7 1525.0L1225.7 1524.8L1206.7 1524.1L1187.6 1522.9L1168.6 1521.3L1149.6 1519.2L1130.7 1516.6L1112.0 1513.6L1093.4 1510.1L1074.9 1506.2L1056.7 1501.8L1038.7 1497.0L1021.0 1491.8L1003.5 1486.1L986.3 1480.0L969.4 1473.5L952.8 1466.6L936.6 1459.3L920.8 1451.7L905.3 1443.6L890.3 1435.2L875.7 1426.4L861.5 1417.2L847.9 1407.8L834.7 1398.0L822.0 1387.9L809.8 1377.5L798.1 1366.8L787.0 1355.9L776.5 1344.6L766.5 1333.2L757.1 1321.5L748.3 1309.6L740.1 1297.5L732.5 1285.2L725.6 1272.8L719.3 1260.1L713.6 1247.4L708.6 1234.5L704.2 1221.6L700.5 1208.5L697.5 1195.4L695.1 1182.2L693.5 1169.0L692.4 1155.8L692.1 1142.7L692.4 1129.6L693.5 1116.4L695.1 1103.2L697.5 1090.0L700.5 1076.9L704.2 1063.8L708.6 1050.9L713.6 1038.0L719.3 1025.3L725.6 1012.6L732.5 1000.2L740.1 987.9L748.3 975.8L757.1 963.9L766.5 952.2L776.5 940.8L787.0 929.5L798.1 918.6L809.8 907.9L822.0 897.5L834.7 887.4L847.9 877.6L861.5 868.2L875.7 859.0L890.3 850.2L905.3 841.8L920.8 833.7L936.6 826.1L952.8 818.8L969.4 811.9L986.3 805.4L1003.5 799.3L1021.0 793.6L1038.7 788.4L1056.7 783.6L1074.9 779.2L1093.4 775.3L1112.0 771.8L1130.7 768.8L1149.6 766.2L1168.6 764.1L1187.6 762.5L1206.7 761.3L1225.7 760.6L1244.7 760.4L1263.7 760.6L1282.7 761.3L1301.8 762.5L1320.8 764.1L1339.8 766.2L1358.7 768.8L1377.4 771.8L1396.0 775.3L1414.5 779.2L1432.7 783.6L1450.7 788.4L1468.4 793.6L1485.9 799.3L1503.1 805.4L1520.0 811.9L1536.6 818.8L1552.8 826.1L1568.6 833.7L1584.1 841.8L1599.1 850.2L1613.7 859.0L1627.9 868.2L1641.5 877.6L1654.7 887.4L1667.4 897.5L1679.6 907.9L1691.3 918.6L1702.4 929.5L1712.9 940.8L1722.9 952.2L1732.3 963.9L1741.1 975.8L1749.3 987.9L1756.9 1000.2L1763.8 1012.6L1770.1 1025.3L1775.8 1038.0L1780.8 1050.9L1785.2 1063.8L1788.9 1076.9L1791.9 1090.0L1794.3 1103.2L1795.9 1116.4L1797.0 1129.6Z" fill="#aab9c6"/>
<path d="M1788.1 1142.1L1787.8 1155.4L1786.8 1168.6L1785.1 1181.8L1782.8 1194.9L1779.9 1207.9L1776.3 1220.8L1772.0 1233.6L1767.1 1246.3L1761.6 1258.8L1755.5 1271.2L1748.7 1283.5L1741.3 1295.5L1733.3 1307.4L1724.7 1319.1L1715.6 1330.5L1705.8 1341.7L1695.5 1352.7L1684.7 1363.4L1673.3 1373.8L1661.4 1384.0L1649.0 1393.9L1636.1 1403.4L1622.7 1412.7L1608.8 1421.6L1594.5 1430.1L1579.8 1438.3L1564.7 1446.2L1549.2 1453.7L1533.3 1460.8L1517.0 1467.5L1500.5 1473.9L1483.6 1479.8L1466.4 1485.3L1448.9 1490.4L1431.2 1495.1L1413.2 1499.3L1395.0 1503.1L1376.6 1506.5L1358.1 1509.4L1339.4 1511.9L1320.6 1514.0L1301.6 1515.6L1282.6 1516.7L1263.4 1517.4L1244.1 1517.6L1224.8 1517.4L1205.6 1516.7L1186.6 1515.6L1167.6 1514.0L1148.8 1511.9L1130.1 1509.4L1111.6 1506.5L1093.2 1503.1L1075.0 1499.3L1057.0 1495.1L1039.3 1490.4L1021.8 1485.3L1004.6 1479.8L987.7 1473.9L971.2 1467.5L954.9 1460.8L939.0 1453.7L923.5 1446.2L908.4 1438.3L893.7 1430.1L879.4 1421.6L865.5 1412.7L852.1 1403.4L839.2 1393.9L826.8 1384.0L814.9 1373.8L803.5 1363.4L792.7 1352.7L782.4 1341.7L772.6 1330.5L763.5 1319.1L754.9 1307.4L746.9 1295.5L739.5 1283.5L732.7 1271.2L726.6 1258.8L721.1 1246.3L716.2 1233.6L711.9 1220.8L708.3 1207.9L705.4 1194.9L703.1 1181.8L701.4 1168.6L700.4 1155.4L700.1 1142.1L700.4 1128.8L701.4 1115.6L703.1 1102.4L705.4 1089.3L708.3 1076.3L711.9 1063.4L716.2 1050.6L721.1 1037.9L726.6 1025.4L732.7 1013.0L739.5 1000.7L746.9 988.7L754.9 976.8L763.5 965.1L772.6 953.7L782.4 942.5L792.7 931.5L803.5 920.8L814.9 910.4L826.8 900.2L839.2 890.3L852.1 880.8L865.5 871.5L879.4 862.6L893.7 854.1L908.4 845.9L923.5 838.0L939.0 830.5L954.9 823.4L971.2 816.7L987.7 810.3L1004.6 804.4L1021.8 798.9L1039.3 793.8L1057.0 789.1L1075.0 784.9L1093.2 781.1L1111.6 777.7L1130.1 774.8L1148.8 772.3L1167.6 770.2L1186.6 768.6L1205.6 767.5L1224.8 766.8L1244.1 766.6L1263.4 766.8L1282.6 767.5L1301.6 768.6L1320.6 770.2L1339.4 772.3L1358.1 774.8L1376.6 777.7L1395.0 781.1L1413.2 784.9L1431.2 789.1L1448.9 793.8L1466.4 798.9L1483.6 804.4L1500.5 810.3L1517.0 816.7L1533.3 823.4L1549.2 830.5L1564.7 838.0L1579.8 845.9L1594.5 854.1L1608.8 862.6L1622.7 871.5L1636.1 880.8L1649.0 890.3L1661.4 900.2L1673.3 910.4L1684.7 920.8L1695.5 931.5L1705.8 942.5L1715.6 953.7L1724.7 965.1L1733.3 976.8L1741.3 988.7L1748.7 1000.7L1755.5 1013.0L1761.6 1025.4L1767.1 1037.9L1772.0 1050.6L1776.3 1063.4L1779.9 1076.3L1782.8 1089.3L1785.1 1102.4L1786.8 1115.6L1787.8 1128.8Z" fill="#e1f0ff"/>
<path d="M1775.0 1143.0L1774.7 1156.6L1773.7 1169.8L1772.1 1182.8L1769.9 1195.8L1767.1 1208.6L1763.6 1221.3L1759.5 1233.9L1754.8 1246.3L1749.5 1258.6L1743.5 1270.7L1737.0 1282.7L1729.9 1294.4L1722.2 1306.0L1713.9 1317.4L1705.1 1328.5L1695.7 1339.4L1685.7 1350.1L1675.3 1360.5L1664.3 1370.6L1652.8 1380.4L1640.8 1390.0L1628.3 1399.3L1615.3 1408.2L1601.9 1416.8L1588.1 1425.1L1573.8 1433.1L1559.2 1440.7L1544.1 1447.9L1528.7 1454.8L1512.9 1461.3L1496.8 1467.4L1480.4 1473.1L1463.6 1478.4L1446.6 1483.3L1429.3 1487.9L1411.8 1492.0L1394.0 1495.6L1376.0 1498.9L1357.8 1501.7L1339.4 1504.1L1320.9 1506.1L1302.1 1507.6L1283.2 1508.7L1264.1 1509.4L1244.5 1509.6L1224.9 1509.4L1205.8 1508.7L1186.9 1507.6L1168.1 1506.1L1149.6 1504.1L1131.2 1501.7L1113.0 1498.9L1095.0 1495.6L1077.2 1492.0L1059.7 1487.9L1042.4 1483.3L1025.4 1478.4L1008.6 1473.1L992.2 1467.4L976.1 1461.3L960.3 1454.8L944.9 1447.9L929.8 1440.7L915.2 1433.1L900.9 1425.1L887.1 1416.8L873.7 1408.2L860.7 1399.3L848.2 1390.0L836.2 1380.4L824.7 1370.6L813.7 1360.5L803.3 1350.1L793.3 1339.4L783.9 1328.5L775.1 1317.4L766.8 1306.0L759.1 1294.4L752.0 1282.7L745.5 1270.7L739.5 1258.6L734.2 1246.3L729.5 1233.9L725.4 1221.3L721.9 1208.6L719.1 1195.8L716.9 1182.8L715.3 1169.8L714.3 1156.6L714.0 1143.0L714.3 1129.4L715.3 1116.2L716.9 1103.2L719.1 1090.2L721.9 1077.4L725.4 1064.7L729.5 1052.1L734.2 1039.7L739.5 1027.4L745.5 1015.3L752.0 1003.3L759.1 991.6L766.8 980.0L775.1 968.6L783.9 957.5L793.3 946.6L803.3 935.9L813.7 925.5L824.7 915.4L836.2 905.6L848.2 896.0L860.7 886.7L873.7 877.8L887.1 869.2L900.9 860.9L915.2 852.9L929.8 845.3L944.9 838.1L960.3 831.2L976.1 824.7L992.2 818.6L1008.6 812.9L1025.4 807.6L1042.4 802.7L1059.7 798.1L1077.2 794.0L1095.0 790.4L1113.0 787.1L1131.2 784.3L1149.6 781.9L1168.1 779.9L1186.9 778.4L1205.8 777.3L1224.9 776.6L1244.5 776.4L1264.1 776.6L1283.2 777.3L1302.1 778.4L1320.9 779.9L1339.4 781.9L1357.8 784.3L1376.0 787.1L1394.0 790.4L1411.8 794.0L1429.3 798.1L1446.6 802.7L1463.6 807.6L1480.4 812.9L1496.8 818.6L1512.9 824.7L1528.7 831.2L1544.1 838.1L1559.2 845.3L1573.8 852.9L1588.1 860.9L1601.9 869.2L1615.3 877.8L1628.3 886.7L1640.8 896.0L1652.8 905.6L1664.3 915.4L1675.3 925.5L1685.7 935.9L1695.7 946.6L1705.1 957.5L1713.9 968.6L1722.2 980.0L1729.9 991.6L1737.0 1003.3L1743.5 1015.3L1749.5 1027.4L1754.8 1039.7L1759.5 1052.1L1763.6 1064.7L1767.1 1077.4L1769.9 1090.2L1772.1 1103.2L1773.7 1116.2L1774.7 1129.4Z" fill="#aab9c6"/>
<path d="M1766.7 1142.2L1766.4 1155.9L1765.5 1169.0L1763.9 1182.0L1761.7 1194.9L1759.0 1207.6L1755.6 1220.1L1751.6 1232.5L1747.0 1244.8L1741.8 1256.9L1736.0 1268.8L1729.6 1280.6L1722.7 1292.2L1715.2 1303.5L1707.1 1314.7L1698.4 1325.6L1689.3 1336.3L1679.5 1346.8L1669.3 1357.0L1658.6 1366.9L1647.3 1376.6L1635.6 1385.9L1623.4 1395.0L1610.7 1403.8L1597.6 1412.2L1584.1 1420.3L1570.1 1428.1L1555.8 1435.5L1541.0 1442.6L1525.9 1449.3L1510.4 1455.7L1494.6 1461.6L1478.5 1467.2L1462.1 1472.4L1445.4 1477.3L1428.4 1481.7L1411.1 1485.7L1393.6 1489.3L1375.9 1492.4L1357.9 1495.2L1339.8 1497.6L1321.4 1499.5L1302.9 1501.0L1284.1 1502.0L1265.0 1502.7L1245.3 1502.9L1225.6 1502.7L1206.5 1502.0L1187.7 1501.0L1169.2 1499.5L1150.8 1497.6L1132.7 1495.2L1114.7 1492.4L1097.0 1489.3L1079.5 1485.7L1062.2 1481.7L1045.2 1477.3L1028.5 1472.4L1012.1 1467.2L996.0 1461.6L980.2 1455.7L964.7 1449.3L949.6 1442.6L934.8 1435.5L920.5 1428.1L906.5 1420.3L893.0 1412.2L879.9 1403.8L867.2 1395.0L855.0 1385.9L843.3 1376.6L832.0 1366.9L821.3 1357.0L811.1 1346.8L801.3 1336.3L792.2 1325.6L783.5 1314.7L775.4 1303.5L767.9 1292.2L761.0 1280.6L754.6 1268.8L748.8 1256.9L743.6 1244.8L739.0 1232.5L735.0 1220.1L731.6 1207.6L728.9 1194.9L726.7 1182.0L725.1 1169.0L724.2 1155.9L723.9 1142.2L724.2 1128.5L725.1 1115.4L726.7 1102.4L728.9 1089.5L731.6 1076.8L735.0 1064.3L739.0 1051.9L743.6 1039.6L748.8 1027.5L754.6 1015.6L761.0 1003.8L767.9 992.2L775.4 980.9L783.5 969.7L792.2 958.8L801.3 948.1L811.1 937.6L821.3 927.4L832.0 917.5L843.3 907.8L855.0 898.5L867.2 889.4L879.9 880.6L893.0 872.2L906.5 864.1L920.5 856.3L934.8 848.9L949.6 841.8L964.7 835.1L980.2 828.7L996.0 822.8L1012.1 817.2L1028.5 812.0L1045.2 807.1L1062.2 802.7L1079.5 798.7L1097.0 795.1L1114.7 792.0L1132.7 789.2L1150.8 786.8L1169.2 784.9L1187.7 783.4L1206.5 782.4L1225.6 781.7L1245.3 781.5L1265.0 781.7L1284.1 782.4L1302.9 783.4L1321.4 784.9L1339.8 786.8L1357.9 789.2L1375.9 792.0L1393.6 795.1L1411.1 798.7L1428.4 802.7L1445.4 807.1L1462.1 812.0L1478.5 817.2L1494.6 822.8L1510.4 828.7L1525.9 835.1L1541.0 841.8L1555.8 848.9L1570.1 856.3L1584.1 864.1L1597.6 872.2L1610.7 880.6L1623.4 889.4L1635.6 898.5L1647.3 907.8L1658.6 917.5L1669.3 927.4L1679.5 937.6L1689.3 948.1L1698.4 958.8L1707.1 969.7L1715.2 980.9L1722.7 992.2L1729.6 1003.8L1736.0 1015.6L1741.8 1027.5L1747.0 1039.6L1751.6 1051.9L1755.6 1064.3L1759.0 1076.8L1761.7 1089.5L1763.9 1102.4L1765.5 1115.4L1766.4 1128.5Z" fill="#f8fbff"/>
<rect x="1067.76" y="696.33" width="119.18" height="182.86" fill="#e9dced" rx="19.59" stroke="#f5b5d6" stroke-width="1.2" fill-opacity="0.72"/>
<rect x="919.18" y="984.08" width="762.39" height="81.63" fill="#fce8b6" rx="20.41" stroke="#fbe3a6" stroke-width="1"/>
<rect x="982.45" y="1112.45" width="370.14" height="293.88" fill="#dbe7f8" rx="28.57" stroke="#a9c6ea" stroke-width="1.3"/>
<rect x="993.88" y="1123.47" width="342.79" height="154.29" fill="#f9d0d0" rx="17.14" stroke="#dc3a45" stroke-width="1.5"/>
<rect x="1353.82" y="1074.69" width="211.02" height="201.02" fill="#cdf1d2" rx="38.78" stroke="#6cc26e" stroke-width="1.3"/>
<rect x="1361.98" y="1087.76" width="193.88" height="117.34" fill="#f1d2f9" rx="30.61" stroke="#a765c4" stroke-width="1.3"/>
<path d="M1080.41 1325.1H1291.84V1396.12H1615.04V1163.47" fill="none" stroke="#b9b9b9" stroke-width="1.3"/>
<path d="M1301.63 1316.94V1389.18H1370.14" fill="none" stroke="#b9b9b9" stroke-width="1.3"/>
<ellipse cx="727.76" cy="1037.14" rx="30.2" ry="25.51" fill="#8aa0d6" stroke="#1f63b8" stroke-width="3.6"/>
<ellipse cx="927.35" cy="1434.9" rx="30.61" ry="35.51" fill="#f9b3a6" stroke="#e8801e" stroke-width="3.4" transform="rotate(12 927.35 1434.9)"/>
<ellipse cx="991.43" cy="1456.53" rx="25.31" ry="35.51" fill="#f9b3a6" stroke="#e8801e" stroke-width="3.4" transform="rotate(14 991.43 1456.53)"/>
<ellipse cx="943.67" cy="1475.71" rx="27.76" ry="28.57" fill="#d8938d" stroke="#9c5a1c" stroke-width="3.4"/>
<ellipse cx="1076.33" cy="1482.65" rx="25.31" ry="35.1" fill="#bce5ee" stroke="#7a9bdc" stroke-width="3.2" transform="rotate(5 1076.33 1482.65)"/>
<path d="M 1128.16 749.39 L 1128.16 807.35" fill="none" stroke="#2b2b2b" stroke-width="1.5" marker-end="url(#ah)"/>
<path d="M 1128.16 813.47 L 1128.16 844.08" fill="none" stroke="#2b2b2b" stroke-width="1.5" marker-end="url(#ah)"/>
<path d="M 1128.98 868.57 L 1128.98 900.41" fill="none" stroke="#2b2b2b" stroke-width="1.5" marker-end="url(#ah)"/>
<path d="M 1128.98 928.98 L 1128.98 990.2" fill="none" stroke="#2b2b2b" stroke-width="1.5" marker-end="url(#ah)"/>
<path d="M 1230.2 820.41 L 1230.2 846.94" fill="none" stroke="#2b2b2b" stroke-width="1.5" marker-end="url(#ah)"/>
<path d="M 1230.2 869.39 L 1230.2 897.96" fill="none" stroke="#2b2b2b" stroke-width="1.5" marker-end="url(#ah)"/>
<path d="M 1271.02 907.35 L 1271.02 929.8" fill="none" stroke="#2b2b2b" stroke-width="1.5" marker-end="url(#ah)"/>
<path d="M 1232.24 916.73 L 1139.59 988.16" fill="none" stroke="#2b2b2b" stroke-width="1.5" marker-end="url(#ah)"/>
<path d="M 1252.65 944.08 L 1158.78 988.98" fill="none" stroke="#2b2b2b" stroke-width="1.5" marker-end="url(#ah)"/>
<path d="M 1129.39 1008.16 L 1129.39 1043.27" fill="none" stroke="#2b2b2b" stroke-width="1.5" marker-end="url(#ah)"/>
<path d="M 1129.39 1009.39 C 1129.39 1023.67 1115.1 1027.76 1097.96 1019.59" fill="none" stroke="#2b2b2b" stroke-width="1.5" marker-end="url(#ah)"/>
<path d="M 1129.39 1009.39 C 1129.39 1023.67 1143.67 1027.76 1158.78 1022.04" fill="none" stroke="#2b2b2b" stroke-width="1.5" marker-end="url(#ah)"/>
<path d="M 1079.59 1053.47 L 996.73 1053.47" fill="none" stroke="#2b2b2b" stroke-width="1.5" marker-end="url(#ah)"/>
<path d="M 1051.84 1053.47 C 1035.51 1050.2 1021.22 1042.04 1015.1 1027.76" fill="none" stroke="#2b2b2b" stroke-width="1.5" marker-end="url(#ah)"/>
<path d="M 1239.59 997.96 C 1260 997.96 1274.29 991.02 1279.59 976.73" fill="none" stroke="#2b2b2b" stroke-width="1.5" marker-end="url(#ah)"/>
<path d="M 1239.59 1051.43 C 1260 1051.43 1274.29 1044.08 1278.37 1031.02" fill="none" stroke="#2b2b2b" stroke-width="1.5" marker-end="url(#ah)"/>
<path d="M 1060 1081.63 L 1086.53 1061.63" fill="none" stroke="#2b2b2b" stroke-width="1.5" marker-end="url(#ah)"/>
<path d="M 1166.12 997.96 L 1366.06 997.96" fill="none" stroke="#2b2b2b" stroke-width="1.4"/>
<path d="M 1166.12 1002.86 L 1366.06 1002.86" fill="none" stroke="#2b2b2b" stroke-width="1.4"/>
<path d="M 1352.18 992.65 L 1366.06 997.96" fill="none" stroke="#2b2b2b" stroke-width="1.4"/>
<path d="M 1180 1008.57 L 1166.12 1002.86" fill="none" stroke="#2b2b2b" stroke-width="1.4"/>
<path d="M 1172.24 1051.43 L 1364.02 1051.43" fill="none" stroke="#2b2b2b" stroke-width="1.4"/>
<path d="M 1172.24 1056.33 L 1364.02 1056.33" fill="none" stroke="#2b2b2b" stroke-width="1.4"/>
<path d="M 1350.14 1046.12 L 1364.02 1051.43" fill="none" stroke="#2b2b2b" stroke-width="1.4"/>
<path d="M 1186.12 1062.04 L 1172.24 1056.33" fill="none" stroke="#2b2b2b" stroke-width="1.4"/>
<path d="M 1443.61 997.96 L 1781.16 997.96" fill="none" stroke="#2b2b2b" stroke-width="1.4"/>
<path d="M 1443.61 1002.86 L 1781.16 1002.86" fill="none" stroke="#2b2b2b" stroke-width="1.4"/>
<path d="M 1767.28 992.65 L 1781.16 997.96" fill="none" stroke="#2b2b2b" stroke-width="1.4"/>
<path d="M 1457.49 1008.57 L 1443.61 1002.86" fill="none" stroke="#2b2b2b" stroke-width="1.4"/>
<path d="M 1441.57 1051.43 L 1799.53 1051.43" fill="none" stroke="#2b2b2b" stroke-width="1.4"/>
<path d="M 1441.57 1056.33 L 1799.53 1056.33" fill="none" stroke="#2b2b2b" stroke-width="1.4"/>
<path d="M 1785.65 1046.12 L 1799.53 1051.43" fill="none" stroke="#2b2b2b" stroke-width="1.4"/>
<path d="M 1455.45 1062.04 L 1441.57 1056.33" fill="none" stroke="#2b2b2b" stroke-width="1.4"/>
<path d="M 1106.94 916.33 C 986.53 933.88 888.57 978.78 866.12 1013.47 C 851.84 1044.08 888.57 1076.73 945.71 1105.31 C 986.53 1125.71 1019.18 1137.96 1041.63 1144.9" fill="none" stroke="#2b2b2b" stroke-width="1.6" stroke-dasharray="8.6 6.2" marker-end="url(#ah)"/>
<path d="M 1067.35 1005.31 C 1064.08 991.02 1039.59 986.94 1011.02 995.1 C 945.71 1011.43 864.08 1027.76 754.69 1023.67" fill="none" stroke="#2b2b2b" stroke-width="1.6" stroke-dasharray="8.6 6.2"/>
<path d="M 750.61 1022.86 C 721.22 1015.51 705.71 999.18 705.71 972.65" fill="none" stroke="#2b2b2b" stroke-width="1.6" stroke-dasharray="8.6 6.2" marker-end="url(#ah)"/>
<path d="M 964.08 1096.33 C 986.53 1121.63 1015.1 1135.92 1040.41 1145.31" fill="none" stroke="#2b2b2b" stroke-width="1.6" stroke-dasharray="8.6 6.2"/>
<text x="1127.76" y="716.03" font-size="16.2" text-anchor="middle" class="g" fill="#b4b4b4">Glycolysis</text>
<text x="1127.76" y="745.83" font-size="16.2" text-anchor="middle" fill="#2b2b2b">Glucose</text>
<text x="1128.57" y="863.79" font-size="16.2" text-anchor="middle" fill="#2b2b2b" textLength="31.48" lengthAdjust="spacingAndGlyphs">GAP</text>
<text x="1126.94" y="924.2" font-size="16.2" text-anchor="middle" fill="#2b2b2b" textLength="29.82" lengthAdjust="spacingAndGlyphs">PEP</text>
<text x="1230.2" y="816.85" font-size="16.2" text-anchor="middle" fill="#2b2b2b">Thr</text>
<text x="1229.39" y="863.79" font-size="16.2" text-anchor="middle" fill="#2b2b2b">Gly</text>
<text x="1231.43" y="911.54" font-size="16.2" text-anchor="middle" fill="#2b2b2b">Ser</text>
<text x="1271.02" y="903.79" font-size="16.2" text-anchor="middle" fill="#2b2b2b">Asp</text>
<text x="1271.02" y="943.38" font-size="16.2" text-anchor="middle" fill="#2b2b2b">Ala</text>
<text x="1267.35" y="972.82" font-size="15.2" fill="#2b2b2b">NAD<tspan font-size="10.5" dy="-6">+</tspan><tspan dy="6" font-size="1">​</tspan></text>
<text x="1128.16" y="1004.61" font-size="16.2" text-anchor="middle" fill="#2b2b2b">Pyruvate</text>
<text x="1067.35" y="1021.75" font-size="16.2" text-anchor="middle" fill="#2b2b2b">Formate</text>
<text x="991.43" y="1023.02" font-size="15.2" fill="#2b2b2b">NAD<tspan font-size="10.5" dy="-6">+</tspan><tspan dy="6" font-size="1">​</tspan></text>
<text x="1160.82" y="1028.33" font-size="15.2" fill="#2b2b2b">CO<tspan font-size="10.5" dy="3.5">2</tspan><tspan dy="-3.5" font-size="1">​</tspan></text>
<text x="1284.9" y="1027.87" font-size="16.2" text-anchor="middle" fill="#2b2b2b" textLength="27.88" lengthAdjust="spacingAndGlyphs">ATP</text>
<text x="1125.71" y="1058.89" font-size="16.2" text-anchor="middle" fill="#2b2b2b">Acetyl-CoA</text>
<text x="966.12" y="1058.89" font-size="16.2" text-anchor="middle" fill="#2b2b2b">Ethanol</text>
<text x="949.8" y="1092.41" font-size="15.2" fill="#2b2b2b">CO<tspan font-size="10.5" dy="3.5">2</tspan><tspan dy="-3.5" font-size="1">​</tspan></text>
<text x="1029.39" y="1091.54" font-size="16.2" text-anchor="middle" fill="#2b2b2b">Ile, Leu</text>
<text x="1238.78" y="1095.22" font-size="16.2" text-anchor="middle" fill="#2b2b2b" textLength="49.7" lengthAdjust="spacingAndGlyphs">CoASH</text>
<text x="685.31" y="960.93" font-size="16.2" fill="#2b2b2b">H<tspan font-size="10.5" dy="-6">+</tspan><tspan dy="6" font-size="1">​</tspan><tspan dx="2">+</tspan><tspan dx="3">CO</tspan><tspan font-size="10.5" dy="3.5">2</tspan><tspan dy="-3.5" font-size="1">​</tspan></text>
<text x="727.35" y="1042.56" font-size="16.2" text-anchor="middle" class="g" fill="#2c3a55" textLength="30.63" lengthAdjust="spacingAndGlyphs">FDH</text>
<text x="700.82" y="678.37" font-size="33" class="pl">f</text>
<text x="1341.57" y="878.75" font-size="26" class="g" fill="#b3b3b3">Cytoplasm</text>
<text x="1402.8" y="1005.42" font-size="16.2" text-anchor="middle" fill="#2b2b2b">Lactate</text>
<text x="1403.61" y="1058.89" font-size="16.2" text-anchor="middle" fill="#2b2b2b">Acetate</text>
<text x="1786.47" y="1005.42" font-size="16.2" fill="#2b2b2b">Lactate</text>
<text x="1804.84" y="1058.89" font-size="16.2" fill="#2b2b2b">Acetate</text>
<text x="1556.27" y="1033.99" font-size="16.2" text-anchor="middle" class="g" fill="#bcc5cf">Fermentation</text>
<text x="1730.14" y="651.95" font-size="16.2" fill="#2b2b2b">Ala</text>
<text x="1784.43" y="651.95" font-size="16.2" fill="#2b2b2b">Lys</text>
<text x="1730.14" y="679.12" font-size="16.2" fill="#2b2b2b">Arg</text>
<text x="1784.43" y="679.12" font-size="16.2" fill="#2b2b2b">Met</text>
<text x="1730.14" y="706.28" font-size="16.2" fill="#2b2b2b">Asn</text>
<text x="1784.43" y="706.28" font-size="16.2" fill="#2b2b2b">Phe</text>
<text x="1730.14" y="733.44" font-size="16.2" fill="#2b2b2b">Asp</text>
<text x="1784.43" y="733.44" font-size="16.2" fill="#2b2b2b">Pro</text>
<text x="1730.14" y="760.61" font-size="16.2" fill="#2b2b2b">Glu</text>
<text x="1784.43" y="760.61" font-size="16.2" fill="#2b2b2b">Ser</text>
<text x="1730.14" y="787.77" font-size="16.2" fill="#2b2b2b">Gly</text>
<text x="1784.43" y="787.77" font-size="16.2" fill="#2b2b2b">Thr</text>
<text x="1730.14" y="814.93" font-size="16.2" fill="#2b2b2b">pGlu</text>
<text x="1784.43" y="814.93" font-size="16.2" fill="#2b2b2b">Tyr</text>
<text x="1730.14" y="842.1" font-size="16.2" fill="#2b2b2b">His</text>
<text x="1784.43" y="842.1" font-size="16.2" fill="#2b2b2b">Uracil</text>
<text x="1730.14" y="869.26" font-size="16.2" fill="#2b2b2b">Ile</text>
<text x="1784.43" y="869.26" font-size="16.2" fill="#2b2b2b">Uridine</text>
<text x="1730.14" y="896.42" font-size="16.2" fill="#2b2b2b">Leu</text>
<text x="1784.43" y="896.42" font-size="16.2" fill="#2b2b2b">Val</text>
<path d="M 1726.06 640.82 C 1715.04 636.73 1711.78 648.16 1711.78 664.49 L 1711.78 750.2 C 1711.78 762.45 1706.88 767.35 1696.67 768.57 C 1706.88 769.8 1711.78 774.69 1711.78 786.94 L 1711.78 874.69 C 1711.78 891.02 1715.04 901.22 1726.06 897.14" fill="none" stroke="#2b2b2b" stroke-width="1.7"/>
<path d="M 1688.51 764.49 C 1598.71 768.57 1553.82 811.43 1553 903.27" fill="none" stroke="#2b2b2b" stroke-width="1.4"/>
<path d="M 1688.51 770.61 C 1604.84 776.73 1559.94 819.59 1559.94 903.27" fill="none" stroke="#2b2b2b" stroke-width="1.4"/>
<path d="M 1677.08 777.96 L 1688.51 770.61" fill="none" stroke="#2b2b2b" stroke-width="1.4"/>
<path d="M 1544.02 893.06 L 1553 903.27" fill="none" stroke="#2b2b2b" stroke-width="1.4"/>
<path d="M 1119.18 1071.63 C 1129.39 1106.33 1145.71 1130 1170.2 1130 C 1194.69 1130 1215.1 1118.57 1228.57 1103.47" fill="none" stroke="#2b2b2b" stroke-width="1.5" marker-end="url(#ah)"/>
<path d="M 1098.78 1144.29 C 1145.71 1124.69 1206.94 1122.65 1253.88 1162.65" fill="none" stroke="#2b2b2b" stroke-width="1.5" marker-end="url(#ah)"/>
<path d="M 1268.16 1179.8 C 1280.41 1192.04 1290.61 1208.37 1295.1 1226.73" fill="none" stroke="#2b2b2b" stroke-width="1.5" marker-end="url(#ah)"/>
<path d="M 1300 1247.14 C 1302.86 1261.43 1301.63 1277.76 1297.55 1296.12" fill="none" stroke="#2b2b2b" stroke-width="1.5" marker-end="url(#ah)"/>
<path d="M 1256.73 1238.98 L 1206.12 1254.08" fill="none" stroke="#2b2b2b" stroke-width="1.5" marker-end="url(#ah)"/>
<path d="M 1120.41 1255.31 L 1051.84 1240.2" fill="none" stroke="#2b2b2b" stroke-width="1.5" marker-end="url(#ah)"/>
<path d="M 1235.51 1245.1 C 1227.35 1302.24 1198.78 1343.06 1147.76 1375.71" fill="none" stroke="#2b2b2b" stroke-width="1.5" marker-end="url(#ah)"/>
<path d="M 1027.35 1220.61 C 1035.51 1196.12 1049.8 1175.71 1069.39 1162.65" fill="none" stroke="#2b2b2b" stroke-width="1.5" marker-end="url(#ah)"/>
<path d="M 1041.63 1161.43 C 1002.86 1169.59 970.2 1183.88 959.18 1226.73" fill="none" stroke="#2b2b2b" stroke-width="1.5" marker-end="url(#ah)"/>
<path d="M 925.31 1234.9 L 897.55 1234.9" fill="none" stroke="#2b2b2b" stroke-width="1.5" marker-end="url(#ah)"/>
<path d="M 898.78 1290.41 L 931.43 1290.41" fill="none" stroke="#2b2b2b" stroke-width="1.5" marker-end="url(#ah)"/>
<path d="M 955.92 1298.98 L 993.88 1321.84" fill="none" stroke="#2b2b2b" stroke-width="1.5" marker-end="url(#ah)"/>
<path d="M 1030.2 1313.67 C 1023.27 1294.08 1019.18 1269.59 1019.18 1247.14" fill="none" stroke="#2b2b2b" stroke-width="1.5" marker-end="url(#ah)"/>
<path d="M 915.1 1350 L 745.71 1350" fill="none" stroke="#2b2b2b" stroke-width="1.5" marker-end="url(#ah)"/>
<path d="M 1286.53 1318.57 C 1280.41 1332.86 1272.24 1343.06 1260.82 1352.45" fill="none" stroke="#2b2b2b" stroke-width="1.5" marker-end="url(#ah)"/>
<path d="M 1231.43 1375.71 C 1211.02 1385.92 1186.53 1392.04 1157.96 1392.04" fill="none" stroke="#2b2b2b" stroke-width="1.5" marker-end="url(#ah)"/>
<path d="M 1282.45 1418.57 L 1251.02 1374.49" fill="none" stroke="#2b2b2b" stroke-width="1.5" marker-end="url(#ah)"/>
<path d="M 1176.33 1432.86 L 1140.82 1396.12" fill="none" stroke="#2b2b2b" stroke-width="1.5" marker-end="url(#ah)"/>
<path d="M 1115.1 1395.31 C 1104.9 1432.86 1092.65 1445.1 1082.45 1445.1 C 1068.16 1445.1 1051.84 1400.2 1032.24 1332.86" fill="none" stroke="#2b2b2b" stroke-width="1.5" marker-end="url(#ah)"/>
<path d="M 1035.51 1155.31 C 986.53 1163.47 953.88 1187.96 947.76 1222.65" fill="none" stroke="#2b2b2b" stroke-width="1.6" stroke-dasharray="8.6 6.2" marker-end="url(#ah)"/>
<path d="M 1049.8 1163.47 C 1027.35 1179.8 1015.1 1200.2 1011.84 1222.65" fill="none" stroke="#2b2b2b" stroke-width="1.6" stroke-dasharray="8.6 6.2" marker-end="url(#ah)"/>
<path d="M 1133.47 1073.67 C 1145.71 1114.49 1231.43 1118.57 1272.24 1158.57" fill="none" stroke="#2b2b2b" stroke-width="1.6" stroke-dasharray="8.6 6.2" marker-end="url(#ah)"/>
<path d="M 1288.57 1173.67 C 1304.9 1192.04 1313.06 1208.37 1316.33 1225.51" fill="none" stroke="#2b2b2b" stroke-width="1.6" stroke-dasharray="8.6 6.2" marker-end="url(#ah)"/>
<path d="M 1088.57 1134.9 C 1129.39 1114.49 1182.45 1118.57 1210.2 1098.16" fill="none" stroke="#2b2b2b" stroke-width="1.6" stroke-dasharray="8.6 6.2" marker-end="url(#ah)"/>
<path d="M 945.71 1247.14 C 957.96 1269.59 978.37 1294.08 1000.82 1313.67" fill="none" stroke="#2b2b2b" stroke-width="1.6" stroke-dasharray="8.6 6.2" marker-end="url(#ah)"/>
<path d="M 1004.9 1251.22 C 1002.86 1273.67 1004.9 1294.08 1011.02 1314.49" fill="none" stroke="#2b2b2b" stroke-width="1.6" stroke-dasharray="8.6 6.2" marker-end="url(#ah)"/>
<path d="M 1321.22 1247.14 C 1324.08 1261.43 1324.08 1277.76 1321.63 1296.12" fill="none" stroke="#2b2b2b" stroke-width="1.6" stroke-dasharray="8.6 6.2" marker-end="url(#ah)"/>
<path d="M 1022.04 1334.9 C 1021.22 1375.71 1019.18 1412.45 1002.86 1422.65 C 986.53 1416.53 976.33 1387.96 966.12 1361.43" fill="none" stroke="#2b2b2b" stroke-width="1.6" stroke-dasharray="8.6 6.2" marker-end="url(#ah)"/>
<path d="M 926.12 1407.55 C 919.18 1400.2 915.1 1392.04 912.24 1380.61" fill="none" stroke="#2b2b2b" stroke-width="1.6" stroke-dasharray="8.6 6.2" marker-end="url(#ah)"/>
<path d="M 945.71 1400.2 C 941.63 1406.33 935.51 1409.18 927.35 1407.55" fill="none" stroke="#2b2b2b" stroke-width="1.6" stroke-dasharray="8.6 6.2"/>
<path d="M 915.1 1475.71 L 873.06 1472.86" fill="none" stroke="#2b2b2b" stroke-width="1.6" stroke-dasharray="8.6 6.2" marker-end="url(#ah)"/>
<path d="M 906.94 1492.04 C 911.02 1487.96 915.1 1483.88 917.96 1481.02" fill="none" stroke="#2b2b2b" stroke-width="1.6" stroke-dasharray="8.6 6.2"/>
<text x="1088.16" y="1158.28" font-size="16.2" text-anchor="middle" fill="#2b2b2b">Oxaloacetate</text>
<text x="1260" y="1176.65" font-size="16.2" text-anchor="middle" fill="#2b2b2b">Citrate</text>
<text x="1169.39" y="1188.89" font-size="16.2" text-anchor="middle" class="g" fill="#c8b8b8">Glyoxylate</text>
<text x="1169.39" y="1212.56" font-size="16.2" text-anchor="middle" class="g" fill="#c8b8b8">shunt</text>
<text x="1022.04" y="1242.36" font-size="16.2" text-anchor="middle" fill="#2b2b2b">Malate</text>
<text x="1264.08" y="1242.36" font-size="16.2" fill="#2b2b2b">Isocitrate</text>
<text x="1164.08" y="1263.99" font-size="16.2" text-anchor="middle" fill="#2b2b2b">Glyoxylate</text>
<text x="1166.12" y="1310.93" font-size="16.2" text-anchor="middle" class="g" fill="#bcc3cc">TCA Cycle</text>
<text x="1234.69" y="1311.22" font-size="17" fill="#2b2b2b">α-ketoglutarate</text>
<text x="1034.69" y="1330.52" font-size="16.2" text-anchor="middle" fill="#2b2b2b">Fumarate</text>
<text x="708.16" y="1355.83" font-size="16.2" text-anchor="middle" fill="#2b2b2b">Succinate</text>
<text x="956.33" y="1355.83" font-size="16.2" text-anchor="middle" fill="#2b2b2b">Succinate</text>
<text x="1236.33" y="1370.12" font-size="16.2" text-anchor="middle" fill="#2b2b2b">Succinyl-CoA</text>
<text x="1117.14" y="1391.75" font-size="16.2" text-anchor="middle" fill="#2b2b2b">Succinate</text>
<text x="1180.41" y="1450.93" font-size="16.2" text-anchor="middle" fill="#2b2b2b">Arg</text>
<text x="1291.84" y="1435.42" font-size="16.2" text-anchor="middle" fill="#2b2b2b">Val</text>
<text x="868.16" y="1226.85" font-size="16.2" text-anchor="middle" fill="#2b2b2b">other amino</text>
<text x="868.16" y="1250.93" font-size="16.2" text-anchor="middle" fill="#2b2b2b">acids</text>
<text x="944.49" y="1241.95" font-size="16.2" text-anchor="middle" fill="#2b2b2b">Asp</text>
<text x="883.27" y="1296.24" font-size="16.2" text-anchor="middle" fill="#2b2b2b">Phe</text>
<text x="942.86" y="1297.05" font-size="16.2" text-anchor="middle" fill="#2b2b2b">Tyr</text>
<text x="900.82" y="1378.28" font-size="16.2" fill="#2b2b2b">NO<tspan font-size="10.5" dy="3.5">3</tspan><tspan dy="-3.5" font-size="1">​</tspan><tspan font-size="10.5" dy="-6">-</tspan><tspan dy="6" font-size="1">​</tspan></text>
<text x="936.73" y="1397.05" font-size="16.2" fill="#2b2b2b">NO<tspan font-size="10.5" dy="3.5">2</tspan><tspan dy="-3.5" font-size="1">​</tspan><tspan font-size="10.5" dy="-6">-</tspan><tspan dy="6" font-size="1">​</tspan></text>
<text x="846.94" y="1482.36" font-size="16.2" fill="#2b2b2b">NH<tspan font-size="10.5" dy="3.5">4</tspan><tspan dy="-3.5" font-size="1">​</tspan><tspan font-size="10.5" dy="-6">+</tspan><tspan dy="6" font-size="1">​</tspan></text>
<text x="880.41" y="1505.22" font-size="16.2" fill="#2b2b2b">NO<tspan font-size="10.5" dy="3.5">2</tspan><tspan dy="-3.5" font-size="1">​</tspan><tspan font-size="10.5" dy="-6">-</tspan><tspan dy="6" font-size="1">​</tspan></text>
<text x="926.53" y="1435.42" font-size="16.2" text-anchor="middle" fill="#2b2b2b" textLength="21.53" lengthAdjust="spacingAndGlyphs">NR</text>
<text x="990.61" y="1461.95" font-size="16.2" text-anchor="middle" fill="#2b2b2b" textLength="30.63" lengthAdjust="spacingAndGlyphs">FRD</text>
<text x="943.27" y="1481.95" font-size="16.2" text-anchor="middle" fill="#2b2b2b" textLength="24.84" lengthAdjust="spacingAndGlyphs">NiR</text>
<text x="1075.51" y="1488.89" font-size="16.2" text-anchor="middle" fill="#2b2b2b" textLength="31.47" lengthAdjust="spacingAndGlyphs">SDH</text>
<path d="M 1398.71 1153.27 C 1419.12 1157.35 1431.37 1147.14 1440.76 1132.86" fill="none" stroke="#2b2b2b" stroke-width="1.5" marker-end="url(#ah)"/>
<path d="M 1422.39 1165.51 C 1425.24 1151.22 1433.41 1141.02 1440.76 1132.86" fill="none" stroke="#2b2b2b" stroke-width="1.5"/>
<path d="M 1508.92 1130.82 C 1525.24 1143.06 1533.41 1155.31 1536.67 1169.59" fill="none" stroke="#2b2b2b" stroke-width="1.5" marker-end="url(#ah)"/>
<path d="M 1523.2 1142.24 C 1533.41 1151.22 1549.73 1152.04 1570.96 1151.22" fill="none" stroke="#2b2b2b" stroke-width="1.5" marker-end="url(#ah)"/>
<path d="M 1520.35 1176.94 L 1450.55 1176.94" fill="none" stroke="#2b2b2b" stroke-width="1.5" marker-end="url(#ah)"/>
<path d="M 1536.27 1186.73 C 1533.41 1208.37 1525.24 1220.61 1510.96 1228.78" fill="none" stroke="#2b2b2b" stroke-width="1.5" marker-end="url(#ah)"/>
<path d="M 1442.8 1226.73 C 1431.37 1216.53 1423.2 1204.29 1419.94 1187.96" fill="none" stroke="#2b2b2b" stroke-width="1.5" marker-end="url(#ah)"/>
<path d="M 1521.98 1234.9 L 1575.45 1234.9" fill="none" stroke="#2b2b2b" stroke-width="1.4"/>
<path d="M 1521.98 1239.8 L 1575.45 1239.8" fill="none" stroke="#2b2b2b" stroke-width="1.4"/>
<path d="M 1561.57 1229.59 L 1575.45 1234.9" fill="none" stroke="#2b2b2b" stroke-width="1.4"/>
<path d="M 1535.86 1245.51 L 1521.98 1239.8" fill="none" stroke="#2b2b2b" stroke-width="1.4"/>
<path d="M 1593.82 1194.08 L 1593.82 1220.61" fill="none" stroke="#2b2b2b" stroke-width="1.4"/>
<path d="M 1599.53 1194.08 L 1599.53 1220.61" fill="none" stroke="#2b2b2b" stroke-width="1.4"/>
<path d="M 1588.1 1210.82 L 1593.82 1220.61" fill="none" stroke="#2b2b2b" stroke-width="1.4"/>
<path d="M 1605.24 1204.29 L 1599.53 1194.08" fill="none" stroke="#2b2b2b" stroke-width="1.4"/>
<path d="M 1598.71 1250 C 1598.71 1281.84 1594.63 1289.18 1566.06 1285.92 C 1517.08 1280.2 1459.94 1281.84 1457.9 1310.41" fill="none" stroke="#2b2b2b" stroke-width="1.5" marker-end="url(#ah)"/>
<path d="M 1383.2 1307.55 L 1351.78 1307.55" fill="none" stroke="#2b2b2b" stroke-width="1.5" marker-end="url(#ah)"/>
<path d="M 1439.53 1327.96 C 1423.2 1343.06 1427.29 1367.55 1447.69 1378.57" fill="none" stroke="#2b2b2b" stroke-width="1.5" marker-end="url(#ah)"/>
<path d="M 1429.33 1347.14 C 1425.24 1355.31 1419.12 1359.39 1404.84 1359.39" fill="none" stroke="#2b2b2b" stroke-width="1.5" marker-end="url(#ah)"/>
<path d="M 1470.14 1376.94 C 1486.47 1363.47 1486.47 1345.1 1467.29 1330" fill="none" stroke="#2b2b2b" stroke-width="1.5" marker-end="url(#ah)"/>
<path d="M 1494.63 1327.96 C 1476.27 1343.06 1480.35 1367.55 1502.8 1378.57" fill="none" stroke="#2b2b2b" stroke-width="1.5" marker-end="url(#ah)"/>
<path d="M 1525.24 1376.94 C 1541.57 1363.47 1537.49 1338.98 1521.98 1328.78" fill="none" stroke="#2b2b2b" stroke-width="1.5" marker-end="url(#ah)"/>
<path d="M 1551.78 1360.61 C 1543.61 1359.39 1539.53 1355.31 1536.67 1351.22" fill="none" stroke="#2b2b2b" stroke-width="1.5"/>
<text x="1422.39" y="1110.12" font-size="16.2" text-anchor="middle" class="g" fill="#d2c2d2">NO Cycle</text>
<text x="1475.04" y="1128.48" font-size="16.2" text-anchor="middle" fill="#2b2b2b">L-arginosuccinate</text>
<text x="1383.2" y="1157.46" font-size="16.2" text-anchor="middle" fill="#2b2b2b">Asp</text>
<text x="1410.96" y="1182.77" font-size="16.2" text-anchor="middle" fill="#2b2b2b">Citrulline</text>
<text x="1537.49" y="1182.77" font-size="16.2" text-anchor="middle" fill="#2b2b2b">Arg</text>
<text x="1575.04" y="1157.46" font-size="16.2" fill="#2b2b2b">Fumarate</text>
<text x="1598.71" y="1186.85" font-size="16.2" text-anchor="middle" fill="#2b2b2b">Pro</text>
<text x="1597.9" y="1240.73" font-size="16.2" text-anchor="middle" fill="#2b2b2b" textLength="28.99" lengthAdjust="spacingAndGlyphs">P5C</text>
<text x="1478.71" y="1242.77" font-size="16.2" text-anchor="middle" fill="#2b2b2b">Ornithine</text>
<text x="1427.29" y="1267.26" font-size="16.2" text-anchor="middle" class="g" fill="#d0c2ca">Urea Cycle</text>
<text x="1396.67" y="1312.16" font-size="16.2" text-anchor="middle" fill="#2b2b2b">Lys</text>
<text x="1455.86" y="1325.63" font-size="16.2" text-anchor="middle" fill="#2b2b2b">Glu</text>
<text x="1508.92" y="1325.63" font-size="16.2" text-anchor="middle" fill="#2b2b2b">Gln</text>
<text x="1370.14" y="1364.4" font-size="16.2" fill="#2b2b2b">NH<tspan font-size="10.5" dy="3.5">4</tspan><tspan dy="-3.5" font-size="1">​</tspan><tspan font-size="10.5" dy="-6">+</tspan><tspan dy="6" font-size="1">​</tspan></text>
<text x="1555.86" y="1366.44" font-size="16.2" fill="#2b2b2b">NH<tspan font-size="10.5" dy="3.5">4</tspan><tspan dy="-3.5" font-size="1">​</tspan><tspan font-size="10.5" dy="-6">+</tspan><tspan dy="6" font-size="1">​</tspan></text>
<text x="1434.22" y="1392.45" font-size="17" text-anchor="middle" fill="#2b2b2b">α-ketoglutarate</text>
<text x="1511.78" y="1392.16" font-size="16.2" text-anchor="middle" fill="#2b2b2b">Glu</text>
</g>
<!-- panel_g -->
<g class="v">
<rect x="0" y="1544.9" width="635.51" height="625.71" fill="#f0f0f0"/>
<line x1="72.65" y1="1625.71" x2="72.65" y2="2117.55" stroke="#cfcfcf" stroke-width="1"/>
<line x1="139.59" y1="1625.71" x2="139.59" y2="2117.55" stroke="#cfcfcf" stroke-width="1"/>
<line x1="206.12" y1="1625.71" x2="206.12" y2="2117.55" stroke="#cfcfcf" stroke-width="1"/>
<line x1="273.06" y1="1625.71" x2="273.06" y2="2117.55" stroke="#cfcfcf" stroke-width="1"/>
<line x1="340" y1="1625.71" x2="340" y2="2117.55" stroke="#cfcfcf" stroke-width="1"/>
<line x1="406.94" y1="1625.71" x2="406.94" y2="2117.55" stroke="#cfcfcf" stroke-width="1"/>
<line x1="473.88" y1="1625.71" x2="473.88" y2="2117.55" stroke="#cfcfcf" stroke-width="1"/>
<line x1="540.82" y1="1625.71" x2="540.82" y2="2117.55" stroke="#cfcfcf" stroke-width="1"/>
<line x1="607.35" y1="1625.71" x2="607.35" y2="2117.55" stroke="#cfcfcf" stroke-width="1"/>
<line x1="60.41" y1="1682.04" x2="607.35" y2="1682.04" stroke="#cfcfcf" stroke-width="1"/>
<line x1="60.41" y1="1791.02" x2="607.35" y2="1791.02" stroke="#cfcfcf" stroke-width="1"/>
<line x1="60.41" y1="1900.82" x2="607.35" y2="1900.82" stroke="#cfcfcf" stroke-width="1"/>
<line x1="60.41" y1="2010.2" x2="607.35" y2="2010.2" stroke="#cfcfcf" stroke-width="1"/>
<rect x="404.08" y="1630.61" width="195.1" height="84.08" fill="#f0f0f0" rx="3" stroke="#ececec" stroke-width="1" fill-opacity="0.85"/>
<line x1="60.41" y1="2091.02" x2="607.35" y2="2091.02" stroke="#111" stroke-width="2" stroke-dasharray="7.5 3"/>
<line x1="214.29" y1="2050.2" x2="387.76" y2="2057.55" stroke="#2a2a2a" stroke-width="1.1" stroke-dasharray="9 8"/>
<line x1="340.82" y1="2013.47" x2="530.61" y2="2035.92" stroke="#2a2a2a" stroke-width="1.1" stroke-dasharray="9 8"/>
<line x1="465.31" y1="2062.45" x2="546.94" y2="2064.49" stroke="#2a2a2a" stroke-width="1.1" stroke-dasharray="9 8"/>
<line x1="232.65" y1="2109.39" x2="318.37" y2="2111.43" stroke="#2a2a2a" stroke-width="1.1" stroke-dasharray="9 8"/>
<line x1="395.92" y1="2107.35" x2="530.61" y2="2111.43" stroke="#2a2a2a" stroke-width="1.1" stroke-dasharray="9 8"/>
<line x1="475.51" y1="2033.88" x2="551.02" y2="2040" stroke="#444" stroke-width="0.8" stroke-dasharray="1.5 2.5"/>
<line x1="563.27" y1="2013.47" x2="538.78" y2="2091.02" stroke="#444" stroke-width="0.8" stroke-dasharray="1.5 2.5"/>
<line x1="551.02" y1="2029.8" x2="571.43" y2="2046.12" stroke="#444" stroke-width="0.8" stroke-dasharray="1.5 2.5"/>
<circle cx="553.88" cy="2106.53" r="5.2" fill="#808080" />
<circle cx="534.69" cy="2105.31" r="5.2" fill="#808080" />
<circle cx="540.82" cy="2111.43" r="5.2" fill="#808080" />
<circle cx="546.94" cy="2113.47" r="5.2" fill="#808080" />
<circle cx="532.65" cy="2110.61" r="5.2" fill="#808080" />
<circle cx="550.2" cy="2110.61" r="5.2" fill="#808080" />
<circle cx="97.14" cy="1668.16" r="5.2" fill="#0000ff" />
<circle cx="373.06" cy="1798.78" r="5.2" fill="#0000ff" />
<circle cx="499.18" cy="1851.02" r="5.2" fill="#0000ff" />
<circle cx="291.02" cy="1867.76" r="5.2" fill="#0000ff" />
<circle cx="493.06" cy="1894.69" r="5.2" fill="#0000ff" />
<circle cx="186.12" cy="1933.47" r="5.2" fill="#0000ff" />
<circle cx="297.96" cy="2038.78" r="5.2" fill="#0000ff" />
<circle cx="259.59" cy="2074.69" r="5.2" fill="#0000ff" />
<circle cx="601.63" cy="1849.8" r="5.2" fill="#ff0000" />
<circle cx="562.86" cy="1972.24" r="5.2" fill="#ff0000" />
<circle cx="559.18" cy="2024.49" r="5.2" fill="#ff0000" />
<circle cx="554.69" cy="2039.18" r="5.2" fill="#ff0000" />
<circle cx="559.18" cy="2067.35" r="5.2" fill="#ff0000" />
<circle cx="570.61" cy="2090.2" r="5.2" fill="#ff0000" />
<text x="106.94" y="1663.17" font-size="17.55">Threonine</text>
<text x="311.43" y="1793.78" font-size="17.55">Lysine</text>
<text x="469.39" y="1844.8" font-size="17.55">Valine</text>
<text x="300" y="1863.17" font-size="17.55">Aspartate</text>
<text x="506.53" y="1867.66" font-size="17.55">Glutamate</text>
<text x="502.04" y="1889.29" font-size="17.55">Tyrosine</text>
<text x="193.06" y="1928.48" font-size="17.55">Acetate</text>
<text x="489.8" y="1967.25" font-size="17.55">Ethanol</text>
<text x="207.76" y="2009.7" font-size="17.55">Pyroglutamate</text>
<text x="515.92" y="2010.11" font-size="17.55">Isoleucine</text>
<text x="364.49" y="2028.48" font-size="17.55">Phenylalanine</text>
<text x="524.49" y="2032.56" font-size="17.55">Arginine</text>
<text x="226.53" y="2033.38" font-size="17.55">Formate</text>
<text x="55.92" y="2050.93" font-size="17.55">2-aminobutyrate</text>
<text x="460.82" y="2053.78" font-size="17.55">Serine</text>
<text x="222.86" y="2065.21" font-size="17.55">Adenosine</text>
<text x="393.88" y="2062.76" font-size="17.55">Alanine</text>
<text x="555.51" y="2063.17" font-size="17.55">Uracil</text>
<text x="472.65" y="2080.31" font-size="17.55">Uridine</text>
<text x="324.49" y="2085.21" font-size="17.55">Proline</text>
<text x="236.73" y="2095.42" font-size="17.55">Histidine</text>
<text x="386.94" y="2097.86" font-size="17.55">Lactate</text>
<text x="511.43" y="2100.72" font-size="17.55">Glucose</text>
<text x="130.61" y="2113.78" font-size="17.55">Methionine</text>
<text x="326.94" y="2113.78" font-size="17.55">Glycine</text>
<text x="462.45" y="2114.19" font-size="17.55">Leucine</text>
<circle cx="428.98" cy="1647.73" r="5.2" fill="#ff0000" />
<text x="462.45" y="1652.47" font-size="17.9">Increase</text>
<circle cx="428.98" cy="1673.85" r="5.2" fill="#0000ff" />
<text x="462.45" y="1678.59" font-size="17.9">Decrease</text>
<circle cx="428.98" cy="1699.57" r="5.2" fill="#808080" />
<text x="462.45" y="1704.31" font-size="17.9">not-significant</text>
<text x="72.65" y="2137.05" font-size="17.9" text-anchor="middle">−1.75</text>
<text x="139.59" y="2137.05" font-size="17.9" text-anchor="middle">−1.50</text>
<text x="206.12" y="2137.05" font-size="17.9" text-anchor="middle">−1.25</text>
<text x="273.06" y="2137.05" font-size="17.9" text-anchor="middle">−1.00</text>
<text x="340" y="2137.05" font-size="17.9" text-anchor="middle">−0.75</text>
<text x="406.94" y="2137.05" font-size="17.9" text-anchor="middle">−0.50</text>
<text x="473.88" y="2137.05" font-size="17.9" text-anchor="middle">−0.25</text>
<text x="540.82" y="2137.05" font-size="17.9" text-anchor="middle">0.00</text>
<text x="607.35" y="2137.05" font-size="17.9" text-anchor="middle">0.25</text>
<text x="53.06" y="1688.48" font-size="17.9" text-anchor="end">20</text>
<text x="53.06" y="1797.46" font-size="17.9" text-anchor="end">15</text>
<text x="53.06" y="1907.26" font-size="17.9" text-anchor="end">10</text>
<text x="53.06" y="2016.64" font-size="17.9" text-anchor="end">5</text>
<text x="333.88" y="2158.68" font-size="17.9" text-anchor="middle"><tspan font-style="italic">log</tspan><tspan font-size="13" dy="4">2</tspan><tspan dy="-4">(Fold-Change)</tspan></text>
<text x="22.77" y="1871.63" font-size="17.9" text-anchor="middle" transform="rotate(-90 22.77 1871.63)">−<tspan font-style="italic">Log</tspan>(FDR adjusted p-value)</text>
<text x="269.39" y="1569.13" font-size="21.7" class="tt" textLength="118.38" lengthAdjust="spacing">Fresh MHB</text>
<text x="321.63" y="1593.62" font-size="21.7" class="tt" textLength="22.4" lengthAdjust="spacing">vs</text>
<text x="77.55" y="1617.3" font-size="21.7" class="tt" textLength="516.31" lengthAdjust="spacing">D-Pleurocidin challenged EMRSA15 Spent MHB</text>
<text x="18.78" y="1584.36" font-size="33" class="pl">g</text>
</g>
<!-- panel_h -->
<g class="v">
<rect x="667.35" y="1544.9" width="637.55" height="623.67" fill="#f0f0f0"/>
<line x1="753.88" y1="1623.67" x2="753.88" y2="2117.55" stroke="#cfcfcf" stroke-width="1"/>
<line x1="838.37" y1="1623.67" x2="838.37" y2="2117.55" stroke="#cfcfcf" stroke-width="1"/>
<line x1="922.86" y1="1623.67" x2="922.86" y2="2117.55" stroke="#cfcfcf" stroke-width="1"/>
<line x1="1007.35" y1="1623.67" x2="1007.35" y2="2117.55" stroke="#cfcfcf" stroke-width="1"/>
<line x1="1091.84" y1="1623.67" x2="1091.84" y2="2117.55" stroke="#cfcfcf" stroke-width="1"/>
<line x1="1175.92" y1="1623.67" x2="1175.92" y2="2117.55" stroke="#cfcfcf" stroke-width="1"/>
<line x1="1260.41" y1="1623.67" x2="1260.41" y2="2117.55" stroke="#cfcfcf" stroke-width="1"/>
<line x1="727.35" y1="1696.33" x2="1287.35" y2="1696.33" stroke="#cfcfcf" stroke-width="1"/>
<line x1="727.35" y1="1802.04" x2="1287.35" y2="1802.04" stroke="#cfcfcf" stroke-width="1"/>
<line x1="727.35" y1="1907.76" x2="1287.35" y2="1907.76" stroke="#cfcfcf" stroke-width="1"/>
<line x1="727.35" y1="2013.47" x2="1287.35" y2="2013.47" stroke="#cfcfcf" stroke-width="1"/>
<rect x="1079.59" y="1628.57" width="200" height="82.86" fill="#f0f0f0" rx="3" stroke="#ececec" stroke-width="1" fill-opacity="0.85"/>
<line x1="727.35" y1="2091.84" x2="1287.35" y2="2091.84" stroke="#111" stroke-width="1.2" stroke-dasharray="7.5 3"/>
<line x1="955.92" y1="1939.18" x2="990.61" y2="1935.92" stroke="#2a2a2a" stroke-width="1.1" stroke-dasharray="9 8"/>
<line x1="941.63" y1="1972.65" x2="962.04" y2="1967.76" stroke="#2a2a2a" stroke-width="1.1" stroke-dasharray="9 8"/>
<line x1="1047.76" y1="1976.73" x2="1113.06" y2="1968.57" stroke="#2a2a2a" stroke-width="1.1" stroke-dasharray="9 8"/>
<line x1="1015.1" y1="2013.47" x2="1047.76" y2="2016.73" stroke="#2a2a2a" stroke-width="1.1" stroke-dasharray="9 8"/>
<line x1="864.08" y1="2028.98" x2="945.71" y2="2028.98" stroke="#333" stroke-width="0.9"/>
<line x1="1094.69" y1="2038.78" x2="1133.47" y2="2041.22" stroke="#2a2a2a" stroke-width="1.1" stroke-dasharray="9 8"/>
<line x1="951.84" y1="2052.24" x2="976.33" y2="2055.1" stroke="#2a2a2a" stroke-width="1.1" stroke-dasharray="9 8"/>
<line x1="880.41" y1="2088.98" x2="953.88" y2="2091.84" stroke="#2a2a2a" stroke-width="1.1" stroke-dasharray="9 8"/>
<line x1="1006.94" y1="2086.12" x2="1129.39" y2="2090.2" stroke="#2a2a2a" stroke-width="1.1" stroke-dasharray="9 8"/>
<line x1="1015.1" y1="2107.35" x2="1039.59" y2="2106.53" stroke="#333" stroke-width="0.9"/>
<line x1="931.43" y1="2111.43" x2="998.78" y2="2115.51" stroke="#2a2a2a" stroke-width="1.1" stroke-dasharray="9 8"/>
<line x1="929.39" y1="1992.24" x2="998.78" y2="2009.39" stroke="#444" stroke-width="0.8" stroke-dasharray="1.5 2.5"/>
<line x1="978.37" y1="2025.71" x2="1027.35" y2="2037.96" stroke="#444" stroke-width="0.8" stroke-dasharray="1.5 2.5"/>
<line x1="978.37" y1="2086.94" x2="1035.51" y2="2074.69" stroke="#444" stroke-width="0.8" stroke-dasharray="1.5 2.5"/>
<circle cx="1002.86" cy="2084.08" r="5.2" fill="#808080" />
<circle cx="957.96" cy="2091.84" r="5.2" fill="#808080" />
<circle cx="1009.39" cy="2105.71" r="5.2" fill="#808080" />
<circle cx="751.43" cy="1665.71" r="5.2" fill="#0000ff" />
<circle cx="933.47" cy="1881.22" r="5.2" fill="#0000ff" />
<circle cx="939.18" cy="1889.8" r="5.2" fill="#0000ff" />
<circle cx="907.76" cy="1929.39" r="5.2" fill="#0000ff" />
<circle cx="995.1" cy="1935.92" r="5.2" fill="#0000ff" />
<circle cx="936.73" cy="1974.69" r="5.2" fill="#0000ff" />
<circle cx="1000.82" cy="2006.94" r="5.2" fill="#0000ff" />
<circle cx="1003.67" cy="2020" r="5.2" fill="#0000ff" />
<circle cx="1004.9" cy="2031.84" r="5.2" fill="#0000ff" />
<circle cx="1003.67" cy="2046.53" r="5.2" fill="#0000ff" />
<circle cx="979.18" cy="2055.92" r="5.2" fill="#0000ff" />
<circle cx="1144.49" cy="1733.06" r="5.2" fill="#ff0000" />
<circle cx="1111.43" cy="1876.73" r="5.2" fill="#ff0000" />
<circle cx="1262.86" cy="1928.98" r="5.2" fill="#ff0000" />
<circle cx="1042.04" cy="1977.96" r="5.2" fill="#ff0000" />
<circle cx="1018.37" cy="2003.67" r="5.2" fill="#ff0000" />
<circle cx="1011.84" cy="2014.29" r="5.2" fill="#ff0000" />
<circle cx="1011.02" cy="2027.76" r="5.2" fill="#ff0000" />
<circle cx="1011.02" cy="2033.88" r="5.2" fill="#ff0000" />
<circle cx="1011.02" cy="2068.57" r="5.2" fill="#ff0000" />
<text x="759.18" y="1661.29" font-size="18">Glucose</text>
<text x="1151.43" y="1728.64" font-size="18">Lactate</text>
<text x="1118.78" y="1872.31" font-size="18">Ethanol</text>
<text x="939.18" y="1876.39" font-size="18">Serine</text>
<text x="866.12" y="1904.96" font-size="18">Glycine</text>
<text x="1180" y="1924.15" font-size="18">Formate</text>
<text x="917.96" y="1924.56" font-size="18">Threonine</text>
<text x="863.27" y="1950.68" font-size="18">Aspartate</text>
<text x="1117.96" y="1967" font-size="18">2-aminobutyrate</text>
<text x="966.12" y="1968.64" font-size="18">Uridine</text>
<text x="1046.94" y="1985.78" font-size="18">Uracil</text>
<text x="832.24" y="1988.64" font-size="18">Glutamate</text>
<text x="975.1" y="1998.84" font-size="18">Lysine</text>
<text x="884.49" y="2019.66" font-size="18">Isoleucine</text>
<text x="1053.88" y="2023.33" font-size="18">Leucine</text>
<text x="728.57" y="2035.58" font-size="18">Pyroglutamate</text>
<text x="1039.59" y="2047" font-size="18">Valine</text>
<text x="1138.37" y="2052.31" font-size="18">Phenylalanine</text>
<text x="879.59" y="2053.13" font-size="18">Acetate</text>
<text x="969.39" y="2069.86" font-size="18">Proline</text>
<text x="1039.59" y="2070.27" font-size="18">Histidine</text>
<text x="784.49" y="2091.9" font-size="18">Adenosine</text>
<text x="1132.24" y="2094.35" font-size="18">Alanine</text>
<text x="925.31" y="2103.33" font-size="18">Tyrosine</text>
<text x="831.43" y="2111.9" font-size="18">Methionine</text>
<text x="1046.94" y="2113.13" font-size="18">Arginine</text>
<circle cx="1105.31" cy="1645.69" r="5.2" fill="#ff0000" />
<text x="1139.18" y="1650.61" font-size="18.4">Increase</text>
<circle cx="1105.31" cy="1671.81" r="5.2" fill="#0000ff" />
<text x="1139.18" y="1676.73" font-size="18.4">Decrease</text>
<circle cx="1105.31" cy="1697.53" r="5.2" fill="#808080" />
<text x="1139.18" y="1702.45" font-size="18.4">not-significant</text>
<text x="753.88" y="2134.78" font-size="18.4" text-anchor="middle">−3</text>
<text x="838.37" y="2134.78" font-size="18.4" text-anchor="middle">−2</text>
<text x="922.86" y="2134.78" font-size="18.4" text-anchor="middle">−1</text>
<text x="1007.35" y="2134.78" font-size="18.4" text-anchor="middle">0</text>
<text x="1091.84" y="2134.78" font-size="18.4" text-anchor="middle">1</text>
<text x="1175.92" y="2134.78" font-size="18.4" text-anchor="middle">2</text>
<text x="1260.41" y="2134.78" font-size="18.4" text-anchor="middle">3</text>
<text x="720" y="1702.95" font-size="18.4" text-anchor="end">20</text>
<text x="720" y="1808.66" font-size="18.4" text-anchor="end">15</text>
<text x="720" y="1914.38" font-size="18.4" text-anchor="end">10</text>
<text x="720" y="2020.09" font-size="18.4" text-anchor="end">5</text>
<text x="1007.35" y="2156.82" font-size="18.4" text-anchor="middle"><tspan font-style="italic">log</tspan><tspan font-size="13" dy="4">2</tspan><tspan dy="-4">(Fold-Change)</tspan></text>
<text x="689.89" y="1870.61" font-size="18.4" text-anchor="middle" transform="rotate(-90 689.89 1870.61)">−<tspan font-style="italic">Log</tspan>(FDR adjusted p-value)</text>
<text x="942.86" y="1567.09" font-size="21.7" class="tt" textLength="120.42" lengthAdjust="spacing">Fresh MHB</text>
<text x="995.51" y="1591.58" font-size="21.7" class="tt" textLength="23.63" lengthAdjust="spacing">vs</text>
<text x="726.53" y="1614.44" font-size="21.7" class="tt" textLength="568.17" lengthAdjust="spacing">D-Pleurocidin-KR Challenged EMRSA15 spent MHB</text>
<text x="696.73" y="1584.36" font-size="33" class="pl">h</text>
</g>
<!-- panel_i -->
<g class="v">
<rect x="1336.27" y="1544.9" width="637.96" height="623.67" fill="#f0f0f0"/>
<line x1="1402.8" y1="1623.67" x2="1402.8" y2="2117.55" stroke="#cfcfcf" stroke-width="1"/>
<line x1="1486.88" y1="1623.67" x2="1486.88" y2="2117.55" stroke="#cfcfcf" stroke-width="1"/>
<line x1="1570.96" y1="1623.67" x2="1570.96" y2="2117.55" stroke="#cfcfcf" stroke-width="1"/>
<line x1="1655.04" y1="1623.67" x2="1655.04" y2="2117.55" stroke="#cfcfcf" stroke-width="1"/>
<line x1="1739.12" y1="1623.67" x2="1739.12" y2="2117.55" stroke="#cfcfcf" stroke-width="1"/>
<line x1="1823.2" y1="1623.67" x2="1823.2" y2="2117.55" stroke="#cfcfcf" stroke-width="1"/>
<line x1="1907.69" y1="1623.67" x2="1907.69" y2="2117.55" stroke="#cfcfcf" stroke-width="1"/>
<line x1="1397.9" y1="1699.18" x2="1963.2" y2="1699.18" stroke="#cfcfcf" stroke-width="1"/>
<line x1="1397.9" y1="1783.27" x2="1963.2" y2="1783.27" stroke="#cfcfcf" stroke-width="1"/>
<line x1="1397.9" y1="1867.76" x2="1963.2" y2="1867.76" stroke="#cfcfcf" stroke-width="1"/>
<line x1="1397.9" y1="1951.84" x2="1963.2" y2="1951.84" stroke="#cfcfcf" stroke-width="1"/>
<line x1="1397.9" y1="2036.33" x2="1963.2" y2="2036.33" stroke="#cfcfcf" stroke-width="1"/>
<rect x="1753" y="1629.8" width="200.82" height="83.67" fill="#f0f0f0" rx="3" stroke="#ececec" stroke-width="1" fill-opacity="0.85"/>
<line x1="1397.9" y1="2097.96" x2="1963.2" y2="2097.96" stroke="#111" stroke-width="1.2" stroke-dasharray="7.5 3"/>
<line x1="1629.33" y1="1991.02" x2="1645.65" y2="1991.84" stroke="#2a2a2a" stroke-width="1.1" stroke-dasharray="9 8"/>
<line x1="1668.1" y1="1993.88" x2="1737.49" y2="1999.18" stroke="#2a2a2a" stroke-width="1.1" stroke-dasharray="9 8"/>
<line x1="1668.1" y1="2024.9" x2="1710.96" y2="2025.71" stroke="#2a2a2a" stroke-width="1.1" stroke-dasharray="9 8"/>
<line x1="1625.24" y1="2038.78" x2="1655.86" y2="2037.96" stroke="#2a2a2a" stroke-width="1.1" stroke-dasharray="9 8"/>
<line x1="1672.18" y1="2034.69" x2="1778.31" y2="2042.04" stroke="#2a2a2a" stroke-width="1.1" stroke-dasharray="9 8"/>
<line x1="1566.06" y1="2093.06" x2="1602.8" y2="2097.14" stroke="#2a2a2a" stroke-width="1.1" stroke-dasharray="9 8"/>
<line x1="1610.96" y1="2111.43" x2="1651.78" y2="2114.69" stroke="#2a2a2a" stroke-width="1.1" stroke-dasharray="9 8"/>
<line x1="1659.94" y1="2115.51" x2="1686.47" y2="2113.47" stroke="#2a2a2a" stroke-width="1.1" stroke-dasharray="9 8"/>
<line x1="1661.98" y1="2091.84" x2="1680.35" y2="2088.98" stroke="#444" stroke-width="0.8" stroke-dasharray="1.5 2.5"/>
<line x1="1545.65" y1="1974.69" x2="1555.86" y2="1978.78" stroke="#444" stroke-width="0.8" stroke-dasharray="1.5 2.5"/>
<circle cx="1657.08" cy="2093.47" r="5.2" fill="#808080" />
<circle cx="1605.24" cy="2097.96" r="5.2" fill="#808080" />
<circle cx="1653.82" cy="2114.69" r="5.2" fill="#808080" />
<circle cx="1482.39" cy="1666.94" r="5.2" fill="#0000ff" />
<circle cx="1456.27" cy="1678.78" r="5.2" fill="#0000ff" />
<circle cx="1550.55" cy="1816.33" r="5.2" fill="#0000ff" />
<circle cx="1419.53" cy="1844.49" r="5.2" fill="#0000ff" />
<circle cx="1581.98" cy="1845.31" r="5.2" fill="#0000ff" />
<circle cx="1635.86" cy="1882.04" r="5.2" fill="#0000ff" />
<circle cx="1637.9" cy="1903.27" r="5.2" fill="#0000ff" />
<circle cx="1645.24" cy="1966.94" r="5.2" fill="#0000ff" />
<circle cx="1558.31" cy="1979.59" r="5.2" fill="#0000ff" />
<circle cx="1650.14" cy="1985.71" r="5.2" fill="#0000ff" />
<circle cx="1648.92" cy="1992.65" r="5.2" fill="#0000ff" />
<circle cx="1652.59" cy="2061.63" r="5.2" fill="#0000ff" />
<circle cx="1786.88" cy="1718.78" r="5.2" fill="#ff0000" />
<circle cx="1936.27" cy="1713.88" r="5.2" fill="#ff0000" />
<circle cx="1751.78" cy="1804.9" r="5.2" fill="#ff0000" />
<circle cx="1706.47" cy="1868.57" r="5.2" fill="#ff0000" />
<circle cx="1673" cy="1903.27" r="5.2" fill="#ff0000" />
<circle cx="1661.16" cy="1992.65" r="5.2" fill="#ff0000" />
<circle cx="1664.02" cy="1992.65" r="5.2" fill="#ff0000" />
<circle cx="1659.53" cy="2024.08" r="5.2" fill="#ff0000" />
<circle cx="1665.65" cy="2033.06" r="5.2" fill="#ff0000" />
<circle cx="1659.12" cy="2037.14" r="5.2" fill="#ff0000" />
<text x="1488.92" y="1662.49" font-size="17.95">Uridine</text>
<text x="1466.06" y="1693.52" font-size="17.95">Threonine</text>
<text x="1759.12" y="1800.05" font-size="17.95">Ethanol</text>
<text x="1487.29" y="1811.47" font-size="17.95">Serine</text>
<text x="1427.29" y="1840.05" font-size="17.95">Glucose</text>
<text x="1589.33" y="1840.45" font-size="17.95">Glycine</text>
<text x="1722.8" y="1864.13" font-size="17.95">2-aminobutyrate</text>
<text x="1530.14" y="1877.19" font-size="17.95">Glutamate</text>
<text x="1540.35" y="1918.41" font-size="17.95">Aspartate</text>
<text x="1678.31" y="1918.41" font-size="17.95">Uracil</text>
<text x="1575.04" y="1962.9" font-size="17.95">Proline</text>
<text x="1472.18" y="1971.47" font-size="17.95">Acetate</text>
<text x="1667.29" y="1975.96" font-size="17.95">Isoleucine</text>
<text x="1564.84" y="1994.33" font-size="17.95">Lysine</text>
<text x="1742.39" y="2007.39" font-size="17.95">Leucine</text>
<text x="1636.27" y="2013.92" font-size="17.95">Alanine</text>
<text x="1716.27" y="2032.29" font-size="17.95">Valine</text>
<text x="1493.82" y="2051.07" font-size="17.95">Phenylalanine</text>
<text x="1786.47" y="2052.7" font-size="17.95">Histidine</text>
<text x="1661.16" y="2056.78" font-size="17.95">Tyrosine</text>
<text x="1683.61" y="2086.58" font-size="17.95">Methionine</text>
<text x="1467.69" y="2090.66" font-size="17.95">Adenosine</text>
<text x="1521.98" y="2112.29" font-size="17.95">Arginine</text>
<text x="1690.55" y="2112.7" font-size="17.95">Pyroglutamate</text>
<text x="1877.49" y="1695.44" font-size="17.95" fill="#bcbcbc" style="stroke:none">Formate</text>
<text x="1794.63" y="1714.62" font-size="17.95" fill="#bcbcbc" style="stroke:none">Lactate</text>
<circle cx="1779.94" cy="1646.51" r="5.2" fill="#ff0000" />
<text x="1814.22" y="1651.47" font-size="18.5">Increase</text>
<circle cx="1779.94" cy="1672.63" r="5.2" fill="#0000ff" />
<text x="1814.22" y="1677.59" font-size="18.5">Decrease</text>
<circle cx="1779.94" cy="1698.34" r="5.2" fill="#808080" />
<text x="1814.22" y="1703.3" font-size="18.5">not-significant</text>
<text x="1402.8" y="2136.05" font-size="18.5" text-anchor="middle">−3</text>
<text x="1486.88" y="2136.05" font-size="18.5" text-anchor="middle">−2</text>
<text x="1570.96" y="2136.05" font-size="18.5" text-anchor="middle">−1</text>
<text x="1655.04" y="2136.05" font-size="18.5" text-anchor="middle">0</text>
<text x="1739.12" y="2136.05" font-size="18.5" text-anchor="middle">1</text>
<text x="1823.2" y="2136.05" font-size="18.5" text-anchor="middle">2</text>
<text x="1907.69" y="2136.05" font-size="18.5" text-anchor="middle">3</text>
<text x="1390.55" y="1705.84" font-size="18.5" text-anchor="end">25</text>
<text x="1390.55" y="1789.93" font-size="18.5" text-anchor="end">20</text>
<text x="1390.55" y="1874.42" font-size="18.5" text-anchor="end">15</text>
<text x="1390.55" y="1958.5" font-size="18.5" text-anchor="end">10</text>
<text x="1390.55" y="2042.99" font-size="18.5" text-anchor="end">5</text>
<text x="1680.55" y="2157.68" font-size="18.5" text-anchor="middle"><tspan font-style="italic">log</tspan><tspan font-size="13" dy="4">2</tspan><tspan dy="-4">(Fold-Change)</tspan></text>
<text x="1360.48" y="1870.61" font-size="18.5" text-anchor="middle" transform="rotate(-90 1360.48 1870.61)">−<tspan font-style="italic">Log</tspan>(FDR adjusted p-value)</text>
<text x="1615.86" y="1568.32" font-size="21.7" class="tt" textLength="120.83" lengthAdjust="spacing">Fresh MHB</text>
<text x="1668.1" y="1592.81" font-size="21.7" class="tt" textLength="24.44" lengthAdjust="spacing">vs</text>
<text x="1464.84" y="1616.07" font-size="21.7" class="tt" textLength="437.92" lengthAdjust="spacing">D-Pleurocidin-VA EMRSA15 spent MHB</text>
<text x="1361.16" y="1584.36" font-size="33" class="pl">i</text>
</g>
<!-- panel_j -->
<g class="v">
<rect x="0" y="2177.51" width="635.51" height="625.31" fill="#f0f0f0"/>
<line x1="89.8" y1="2257.92" x2="89.8" y2="2749.76" stroke="#cfcfcf" stroke-width="1"/>
<line x1="216.33" y1="2257.92" x2="216.33" y2="2749.76" stroke="#cfcfcf" stroke-width="1"/>
<line x1="342.86" y1="2257.92" x2="342.86" y2="2749.76" stroke="#cfcfcf" stroke-width="1"/>
<line x1="469.39" y1="2257.92" x2="469.39" y2="2749.76" stroke="#cfcfcf" stroke-width="1"/>
<line x1="596.33" y1="2257.92" x2="596.33" y2="2749.76" stroke="#cfcfcf" stroke-width="1"/>
<line x1="51.02" y1="2345.67" x2="625.71" y2="2345.67" stroke="#cfcfcf" stroke-width="1"/>
<line x1="51.02" y1="2452.61" x2="625.71" y2="2452.61" stroke="#cfcfcf" stroke-width="1"/>
<line x1="51.02" y1="2559.14" x2="625.71" y2="2559.14" stroke="#cfcfcf" stroke-width="1"/>
<line x1="51.02" y1="2666.08" x2="625.71" y2="2666.08" stroke="#cfcfcf" stroke-width="1"/>
<rect x="459.59" y="2263.22" width="158.37" height="57.14" fill="#f0f0f0" rx="3" stroke="#ececec" stroke-width="1" fill-opacity="0.85"/>
<line x1="255.1" y1="2545.67" x2="304.08" y2="2544.45" stroke="#2a2a2a" stroke-width="1.1" stroke-dasharray="9 8"/>
<line x1="179.59" y1="2548.94" x2="214.29" y2="2557.1" stroke="#444" stroke-width="0.8" stroke-dasharray="1.5 2.5"/>
<line x1="191.84" y1="2613.02" x2="226.53" y2="2617.1" stroke="#2a2a2a" stroke-width="1.1" stroke-dasharray="9 8"/>
<line x1="240.82" y1="2687.71" x2="277.55" y2="2691.8" stroke="#2a2a2a" stroke-width="1.1" stroke-dasharray="9 8"/>
<line x1="212.24" y1="2727.31" x2="332.65" y2="2733.43" stroke="#2a2a2a" stroke-width="1.1" stroke-dasharray="9 8"/>
<line x1="161.22" y1="2706.9" x2="193.88" y2="2717.1" stroke="#444" stroke-width="0.8" stroke-dasharray="1.5 2.5"/>
<line x1="148.98" y1="2547.71" x2="175.51" y2="2547.71" stroke="#2a2a2a" stroke-width="1.1" stroke-dasharray="9 8"/>
<line x1="200" y1="2704.86" x2="212.24" y2="2708.94" stroke="#2a2a2a" stroke-width="1.1" stroke-dasharray="9 8"/>
<circle cx="130.2" cy="2311.39" r="5.2" fill="#0000ff" />
<circle cx="153.06" cy="2539.96" r="5.2" fill="#0000ff" />
<circle cx="177.55" cy="2547.31" r="5.2" fill="#0000ff" />
<circle cx="173.06" cy="2588.12" r="5.2" fill="#0000ff" />
<circle cx="186.53" cy="2594.65" r="5.2" fill="#0000ff" />
<circle cx="190.61" cy="2613.02" r="5.2" fill="#0000ff" />
<circle cx="188.98" cy="2630.16" r="5.2" fill="#0000ff" />
<circle cx="182.45" cy="2686.9" r="5.2" fill="#0000ff" />
<circle cx="197.14" cy="2704.04" r="5.2" fill="#0000ff" />
<circle cx="195.51" cy="2717.1" r="5.2" fill="#0000ff" />
<circle cx="206.12" cy="2726.49" r="5.2" fill="#0000ff" />
<circle cx="63.67" cy="2736.69" r="5.2" fill="#0000ff" />
<circle cx="249.39" cy="2545.67" r="5.2" fill="#ff0000" />
<circle cx="590.2" cy="2548.53" r="5.2" fill="#ff0000" />
<circle cx="234.69" cy="2686.08" r="5.2" fill="#ff0000" />
<circle cx="237.96" cy="2686.08" r="5.2" fill="#ff0000" />
<text x="139.59" y="2306.69" font-size="18.35">Succinate</text>
<text x="78.37" y="2529.54" font-size="18.35">Unassigned 4.25ppm</text>
<text x="512.24" y="2543.83" font-size="18.35">Acetate</text>
<text x="308.16" y="2549.02" font-size="18.35"><tspan font-size="13.8">D</tspan>-alanine (LTA)</text>
<text x="90.2" y="2555.26" font-size="18.35">Valine</text>
<text x="218.37" y="2569.54" font-size="18.35">Choline</text>
<text x="80.82" y="2583.42" font-size="18.35">Citrulline</text>
<text x="139.59" y="2608.32" font-size="18.35">Acetyl-Phosphocholine (1)</text>
<text x="232.65" y="2627.5" font-size="18.35">Lysine</text>
<text x="123.67" y="2645.87" font-size="18.35">Isoleucine</text>
<text x="221.63" y="2680.56" font-size="18.35">Glycerol (lipid headgroup) (1)</text>
<text x="103.67" y="2682.2" font-size="18.35">Leucine</text>
<text x="281.63" y="2700.97" font-size="18.35">Betaine</text>
<text x="63.67" y="2700.56" font-size="18.35">N-acetyl-x (3)</text>
<text x="215.92" y="2723.01" font-size="18.35">Glutamate</text>
<text x="69.39" y="2731.58" font-size="18.35">Uracil</text>
<text x="339.59" y="2746.69" font-size="18.35">Glycerol (lipid headgroup) (3)</text>
<circle cx="486.12" cy="2279.93" r="5.2" fill="#ff0000" />
<text x="521.22" y="2285.03" font-size="18.9">Increase</text>
<circle cx="486.12" cy="2306.06" r="5.2" fill="#0000ff" />
<text x="521.22" y="2311.16" font-size="18.9">Decrease</text>
<text x="89.8" y="2768.8" font-size="18.9" text-anchor="middle">−1</text>
<text x="216.33" y="2768.8" font-size="18.9" text-anchor="middle">0</text>
<text x="342.86" y="2768.8" font-size="18.9" text-anchor="middle">1</text>
<text x="469.39" y="2768.8" font-size="18.9" text-anchor="middle">2</text>
<text x="596.33" y="2768.8" font-size="18.9" text-anchor="middle">3</text>
<text x="43.67" y="2352.47" font-size="18.9" text-anchor="end">5</text>
<text x="43.67" y="2459.41" font-size="18.9" text-anchor="end">4</text>
<text x="43.67" y="2565.94" font-size="18.9" text-anchor="end">3</text>
<text x="43.67" y="2672.88" font-size="18.9" text-anchor="end">2</text>
<text x="338.37" y="2791.25" font-size="18.9" text-anchor="middle"><tspan font-style="italic">log</tspan><tspan font-size="13" dy="4">2</tspan><tspan dy="-4">(Fold-Change)</tspan></text>
<text x="23.13" y="2503.84" font-size="18.9" text-anchor="middle" transform="rotate(-90 23.13 2503.84)">−<tspan font-style="italic">Log</tspan>(FDR adjusted p-value)</text>
<text x="278.78" y="2201.34" font-size="21.7" class="tt" textLength="110.19" lengthAdjust="spacing">EMRSA15</text>
<text x="325.71" y="2225.83" font-size="21.7" class="tt" textLength="24.44" lengthAdjust="spacing">vs</text>
<text x="91.02" y="2249.09" font-size="21.7" class="tt" textLength="500.79" lengthAdjust="spacing">D-Pleurocidin Challenged EMRSA15 in MHB</text>
<text x="20.41" y="2216.56" font-size="33" class="pl">j</text>
</g>
<!-- panel_k -->
<g class="v">
<rect x="664.9" y="2177.1" width="637.14" height="625.71" fill="#f0f0f0"/>
<line x1="759.18" y1="2257.92" x2="759.18" y2="2748.53" stroke="#cfcfcf" stroke-width="1"/>
<line x1="858.37" y1="2257.92" x2="858.37" y2="2748.53" stroke="#cfcfcf" stroke-width="1"/>
<line x1="957.14" y1="2257.92" x2="957.14" y2="2748.53" stroke="#cfcfcf" stroke-width="1"/>
<line x1="1055.92" y1="2257.92" x2="1055.92" y2="2748.53" stroke="#cfcfcf" stroke-width="1"/>
<line x1="1155.1" y1="2257.92" x2="1155.1" y2="2748.53" stroke="#cfcfcf" stroke-width="1"/>
<line x1="1254.29" y1="2257.92" x2="1254.29" y2="2748.53" stroke="#cfcfcf" stroke-width="1"/>
<line x1="731.43" y1="2311.8" x2="1291.84" y2="2311.8" stroke="#cfcfcf" stroke-width="1"/>
<line x1="731.43" y1="2384.86" x2="1291.84" y2="2384.86" stroke="#cfcfcf" stroke-width="1"/>
<line x1="731.43" y1="2457.1" x2="1291.84" y2="2457.1" stroke="#cfcfcf" stroke-width="1"/>
<line x1="731.43" y1="2530.57" x2="1291.84" y2="2530.57" stroke="#cfcfcf" stroke-width="1"/>
<line x1="731.43" y1="2602.82" x2="1291.84" y2="2602.82" stroke="#cfcfcf" stroke-width="1"/>
<line x1="731.43" y1="2675.47" x2="1291.84" y2="2675.47" stroke="#cfcfcf" stroke-width="1"/>
<line x1="731.43" y1="2748.53" x2="1291.84" y2="2748.53" stroke="#cfcfcf" stroke-width="1"/>
<rect x="1128.57" y="2263.22" width="155.92" height="55.92" fill="#f0f0f0" rx="3" stroke="#ececec" stroke-width="1" fill-opacity="0.85"/>
<line x1="823.27" y1="2468.94" x2="941.63" y2="2468.12" stroke="#333" stroke-width="0.9"/>
<line x1="827.35" y1="2468.12" x2="994.69" y2="2448.53" stroke="#2a2a2a" stroke-width="1.1" stroke-dasharray="9 8"/>
<line x1="900.82" y1="2675.47" x2="1064.08" y2="2670.16" stroke="#2a2a2a" stroke-width="1.1" stroke-dasharray="9 8"/>
<line x1="1045.71" y1="2470.16" x2="1068.16" y2="2475.47" stroke="#2a2a2a" stroke-width="1.1" stroke-dasharray="9 8"/>
<line x1="782.45" y1="2447.71" x2="780.41" y2="2466.08" stroke="#444" stroke-width="0.8" stroke-dasharray="1.5 2.5"/>
<line x1="782.45" y1="2472.2" x2="802.86" y2="2488.53" stroke="#444" stroke-width="0.8" stroke-dasharray="1.5 2.5"/>
<line x1="904.9" y1="2453.84" x2="945.71" y2="2468.12" stroke="#444" stroke-width="0.8" stroke-dasharray="1.5 2.5"/>
<circle cx="740.82" cy="2338.33" r="5.2" fill="#0000ff" />
<circle cx="766.12" cy="2470.16" r="5.2" fill="#0000ff" />
<circle cx="779.18" cy="2470.16" r="5.2" fill="#0000ff" />
<circle cx="820.82" cy="2470.16" r="5.2" fill="#0000ff" />
<circle cx="806.12" cy="2492.2" r="5.2" fill="#0000ff" />
<circle cx="785.31" cy="2690.98" r="5.2" fill="#0000ff" />
<circle cx="962.45" cy="2338.33" r="5.2" fill="#ff0000" />
<circle cx="948.16" cy="2470.16" r="5.2" fill="#ff0000" />
<circle cx="1041.63" cy="2470.16" r="5.2" fill="#ff0000" />
<circle cx="1253.06" cy="2494.24" r="5.2" fill="#ff0000" />
<circle cx="957.14" cy="2535.06" r="5.2" fill="#ff0000" />
<circle cx="883.27" cy="2621.18" r="5.2" fill="#ff0000" />
<circle cx="894.29" cy="2677.92" r="5.2" fill="#ff0000" />
<circle cx="971.84" cy="2701.59" r="5.2" fill="#ff0000" />
<text x="750.61" y="2333.49" font-size="18">Aspartate</text>
<text x="976.33" y="2334.19" font-size="18"><tspan font-size="13.8">D</tspan>-alanine (LTA)</text>
<text x="739.18" y="2437.58" font-size="18">Glutamate</text>
<text x="1001.22" y="2444.51" font-size="18">N-acetyl-x (3)</text>
<text x="832.65" y="2454.72" font-size="18">Lipid -CH=CH-</text>
<text x="959.18" y="2472.27" font-size="18">Alanine</text>
<text x="794.69" y="2486.15" font-size="18">Succinate</text>
<text x="1073.06" y="2486.15" font-size="18">Lactate</text>
<text x="1196.33" y="2489.82" font-size="18">Uracil</text>
<text x="771.84" y="2504.11" font-size="18">N-acetyl-x (1)</text>
<text x="826.53" y="2517.17" font-size="18">Unassigned 3.4802ppm</text>
<text x="966.94" y="2530.23" font-size="18">Isoleucine</text>
<text x="895.92" y="2636.35" font-size="18">N-acetyl-x (2)</text>
<text x="1069.8" y="2669.82" font-size="18">Unassigned 4.25ppm</text>
<text x="756.33" y="2689.41" font-size="18">Glycerol (lipid headgroup) (1)</text>
<text x="894.69" y="2716.35" font-size="18">Leucine</text>
<circle cx="1154.69" cy="2278.71" r="5.2" fill="#ff0000" />
<text x="1189.39" y="2283.6" font-size="18.3">Increase</text>
<circle cx="1154.69" cy="2304.83" r="5.2" fill="#0000ff" />
<text x="1189.39" y="2309.72" font-size="18.3">Decrease</text>
<text x="759.18" y="2767.37" font-size="18.3" text-anchor="middle">−0.2</text>
<text x="858.37" y="2767.37" font-size="18.3" text-anchor="middle">0.0</text>
<text x="957.14" y="2767.37" font-size="18.3" text-anchor="middle">0.2</text>
<text x="1055.92" y="2767.37" font-size="18.3" text-anchor="middle">0.4</text>
<text x="1155.1" y="2767.37" font-size="18.3" text-anchor="middle">0.6</text>
<text x="1254.29" y="2767.37" font-size="18.3" text-anchor="middle">0.8</text>
<text x="724.49" y="2318.39" font-size="18.3" text-anchor="end">2.4</text>
<text x="724.49" y="2391.45" font-size="18.3" text-anchor="end">2.2</text>
<text x="724.49" y="2463.69" font-size="18.3" text-anchor="end">2.0</text>
<text x="724.49" y="2537.16" font-size="18.3" text-anchor="end">1.8</text>
<text x="724.49" y="2609.41" font-size="18.3" text-anchor="end">1.6</text>
<text x="724.49" y="2682.06" font-size="18.3" text-anchor="end">1.4</text>
<text x="724.49" y="2755.12" font-size="18.3" text-anchor="end">1.2</text>
<text x="1011.63" y="2789" font-size="18.3" text-anchor="middle"><tspan font-style="italic">log</tspan><tspan font-size="13" dy="4">2</tspan><tspan dy="-4">(Fold-Change)</tspan></text>
<text x="687" y="2503.22" font-size="18.3" text-anchor="middle" transform="rotate(-90 687 2503.22)">−<tspan font-style="italic">Log</tspan>(FDR adjusted p-value)</text>
<text x="953.88" y="2200.52" font-size="21.7" class="tt" textLength="106.11" lengthAdjust="spacing">EMRSA15</text>
<text x="998.78" y="2225.01" font-size="21.7" class="tt" textLength="23.63" lengthAdjust="spacing">vs</text>
<text x="751.84" y="2247.46" font-size="21.7" class="tt" textLength="525.31" lengthAdjust="spacing">D-Pleurocidin-KR Challenged EMRSA15 in MHB</text>
<text x="695.92" y="2216.56" font-size="33" class="pl">k</text>
</g>
<!-- panel_l -->
<g class="v">
<rect x="1336.27" y="2177.1" width="637.96" height="625.71" fill="#f0f0f0"/>
<line x1="1459.12" y1="2257.92" x2="1459.12" y2="2749.76" stroke="#cfcfcf" stroke-width="1"/>
<line x1="1577.9" y1="2257.92" x2="1577.9" y2="2749.76" stroke="#cfcfcf" stroke-width="1"/>
<line x1="1696.67" y1="2257.92" x2="1696.67" y2="2749.76" stroke="#cfcfcf" stroke-width="1"/>
<line x1="1815.45" y1="2257.92" x2="1815.45" y2="2749.76" stroke="#cfcfcf" stroke-width="1"/>
<line x1="1934.22" y1="2257.92" x2="1934.22" y2="2749.76" stroke="#cfcfcf" stroke-width="1"/>
<line x1="1386.47" y1="2287.71" x2="1961.98" y2="2287.71" stroke="#cfcfcf" stroke-width="1"/>
<line x1="1386.47" y1="2350.57" x2="1961.98" y2="2350.57" stroke="#cfcfcf" stroke-width="1"/>
<line x1="1386.47" y1="2413.02" x2="1961.98" y2="2413.02" stroke="#cfcfcf" stroke-width="1"/>
<line x1="1386.47" y1="2475.47" x2="1961.98" y2="2475.47" stroke="#cfcfcf" stroke-width="1"/>
<line x1="1386.47" y1="2537.92" x2="1961.98" y2="2537.92" stroke="#cfcfcf" stroke-width="1"/>
<line x1="1386.47" y1="2600.37" x2="1961.98" y2="2600.37" stroke="#cfcfcf" stroke-width="1"/>
<line x1="1386.47" y1="2662.82" x2="1961.98" y2="2662.82" stroke="#cfcfcf" stroke-width="1"/>
<line x1="1386.47" y1="2725.27" x2="1961.98" y2="2725.27" stroke="#cfcfcf" stroke-width="1"/>
<rect x="1796.27" y="2263.22" width="158.37" height="55.92" fill="#f0f0f0" rx="3" stroke="#ececec" stroke-width="1" fill-opacity="0.85"/>
<line x1="1615.04" y1="2635.47" x2="1692.59" y2="2631.39" stroke="#2a2a2a" stroke-width="1.1" stroke-dasharray="9 8"/>
<line x1="1472.18" y1="2641.59" x2="1515.04" y2="2647.71" stroke="#2a2a2a" stroke-width="1.1" stroke-dasharray="9 8"/>
<line x1="1561.98" y1="2650.98" x2="1608.92" y2="2649.76" stroke="#2a2a2a" stroke-width="1.1" stroke-dasharray="9 8"/>
<line x1="1557.9" y1="2678.33" x2="1653.82" y2="2681.18" stroke="#2a2a2a" stroke-width="1.1" stroke-dasharray="9 8"/>
<line x1="1568.1" y1="2704.86" x2="1678.31" y2="2701.59" stroke="#2a2a2a" stroke-width="1.1" stroke-dasharray="9 8"/>
<line x1="1513" y1="2674.24" x2="1535.45" y2="2676.29" stroke="#2a2a2a" stroke-width="1.1" stroke-dasharray="9 8"/>
<line x1="1404.84" y1="2738.33" x2="1417.08" y2="2738.33" stroke="#333" stroke-width="0.9"/>
<circle cx="1485.24" cy="2307.71" r="5.2" fill="#0000ff" />
<circle cx="1506.06" cy="2361.59" r="5.2" fill="#0000ff" />
<circle cx="1512.18" cy="2577.1" r="5.2" fill="#0000ff" />
<circle cx="1542.39" cy="2633.43" r="5.2" fill="#0000ff" />
<circle cx="1518.31" cy="2647.71" r="5.2" fill="#0000ff" />
<circle cx="1526.06" cy="2650.98" r="5.2" fill="#0000ff" />
<circle cx="1533.41" cy="2651.8" r="5.2" fill="#0000ff" />
<circle cx="1556.67" cy="2651.8" r="5.2" fill="#0000ff" />
<circle cx="1537.08" cy="2676.29" r="5.2" fill="#0000ff" />
<circle cx="1552.18" cy="2677.92" r="5.2" fill="#0000ff" />
<circle cx="1541.98" cy="2684.86" r="5.2" fill="#0000ff" />
<circle cx="1550.14" cy="2706.9" r="5.2" fill="#0000ff" />
<circle cx="1562.8" cy="2706.9" r="5.2" fill="#0000ff" />
<circle cx="1543.61" cy="2713.84" r="5.2" fill="#0000ff" />
<circle cx="1545.24" cy="2721.59" r="5.2" fill="#0000ff" />
<circle cx="1434.63" cy="2716.29" r="5.2" fill="#0000ff" />
<circle cx="1633.41" cy="2499.96" r="5.2" fill="#ff0000" />
<circle cx="1929.33" cy="2500.37" r="5.2" fill="#ff0000" />
<circle cx="1608.1" cy="2637.1" r="5.2" fill="#ff0000" />
<text x="1494.63" y="2303.02" font-size="18.4">Succinate</text>
<text x="1525.65" y="2356.49" font-size="18.4">Unassigned 4.25ppm</text>
<text x="1647.69" y="2496.78" font-size="18.4"><tspan font-size="13.8">D</tspan>-alanine (LTA)</text>
<text x="1850.96" y="2495.27" font-size="18.4">Acetate</text>
<text x="1518.31" y="2572.41" font-size="18.4">Valine</text>
<text x="1493.82" y="2625.06" font-size="18.4">Citrulline</text>
<text x="1698.71" y="2631.59" font-size="18.4">Lipid -CH=CH-</text>
<text x="1390.55" y="2642.21" font-size="18.4">Leucine</text>
<text x="1613.82" y="2651.59" font-size="18.4">Alanine</text>
<text x="1406.88" y="2667.92" font-size="18.4">Isoleucine</text>
<text x="1557.9" y="2673.23" font-size="18.4">Lactate</text>
<text x="1385.65" y="2680.16" font-size="18.4">N-acetyl-x (3)</text>
<text x="1658.31" y="2691.59" font-size="18.4">Acetyl-Phosphocholine (1)</text>
<text x="1526.88" y="2697.31" font-size="18.4">Choline</text>
<text x="1683.2" y="2702.61" font-size="18.4">Glycerol (lipid headgroup) (3)</text>
<text x="1390.55" y="2711.19" font-size="18.4">Adenosine</text>
<text x="1550.96" y="2722.21" font-size="18.4">Glutamate</text>
<text x="1600.76" y="2722.21" font-size="18.4">Proline</text>
<text x="1402.8" y="2743.43" font-size="18.4">Uracil</text>
<text x="1462.39" y="2743.43" font-size="18.4">Aspartate</text>
<circle cx="1822.8" cy="2278.71" r="5.2" fill="#ff0000" />
<text x="1857.49" y="2283.81" font-size="18.9">Increase</text>
<circle cx="1822.8" cy="2304.83" r="5.2" fill="#0000ff" />
<text x="1857.49" y="2309.93" font-size="18.9">Decrease</text>
<text x="1459.12" y="2767.98" font-size="18.9" text-anchor="middle">−1</text>
<text x="1577.9" y="2767.98" font-size="18.9" text-anchor="middle">0</text>
<text x="1696.67" y="2767.98" font-size="18.9" text-anchor="middle">1</text>
<text x="1815.45" y="2767.98" font-size="18.9" text-anchor="middle">2</text>
<text x="1934.22" y="2767.98" font-size="18.9" text-anchor="middle">3</text>
<text x="1379.53" y="2294.51" font-size="18.9" text-anchor="end">9</text>
<text x="1379.53" y="2357.37" font-size="18.9" text-anchor="end">8</text>
<text x="1379.53" y="2419.82" font-size="18.9" text-anchor="end">7</text>
<text x="1379.53" y="2482.27" font-size="18.9" text-anchor="end">6</text>
<text x="1379.53" y="2544.72" font-size="18.9" text-anchor="end">5</text>
<text x="1379.53" y="2607.17" font-size="18.9" text-anchor="end">4</text>
<text x="1379.53" y="2669.62" font-size="18.9" text-anchor="end">3</text>
<text x="1379.53" y="2732.07" font-size="18.9" text-anchor="end">2</text>
<text x="1674.22" y="2789.62" font-size="18.9" text-anchor="middle"><tspan font-style="italic">log</tspan><tspan font-size="13" dy="4">2</tspan><tspan dy="-4">(Fold-Change)</tspan></text>
<text x="1359.39" y="2503.84" font-size="18.9" text-anchor="middle" transform="rotate(-90 1359.39 2503.84)">−<tspan font-style="italic">Log</tspan>(FDR adjusted p-value)</text>
<text x="1615.86" y="2200.52" font-size="21.7" class="tt" textLength="109.38" lengthAdjust="spacing">EMRSA15</text>
<text x="1661.98" y="2225.01" font-size="21.7" class="tt" textLength="24.44" lengthAdjust="spacing">vs</text>
<text x="1407.69" y="2248.28" font-size="21.7" class="tt" textLength="540.82" lengthAdjust="spacing">D-Pleurocidin-VA Challenged EMRSA15 in MHB</text>
<text x="1358.71" y="2216.56" font-size="33" class="pl">l</text>
</g>
</svg>
</body></html>
